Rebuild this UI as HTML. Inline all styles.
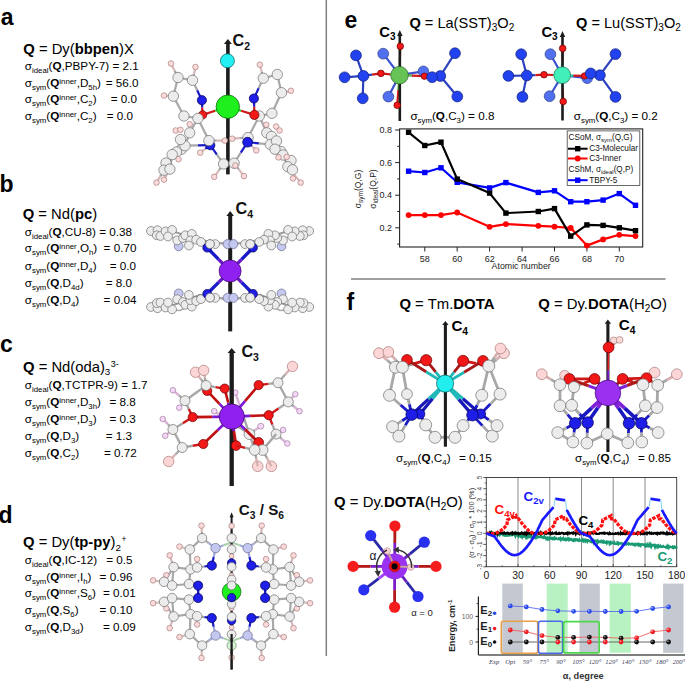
<!DOCTYPE html>
<html><head><meta charset="utf-8"><style>
html,body{margin:0;padding:0;background:#fff;width:685px;height:681px;overflow:hidden}
svg{display:block;font-family:"Liberation Sans",sans-serif}
</style></head><body>
<svg width="685" height="681" viewBox="0 0 685 681">
<line x1="326.3" y1="0" x2="326.3" y2="656" stroke="#808080" stroke-width="1.5"/>
<line x1="351" y1="279" x2="665.5" y2="279" stroke="#808080" stroke-width="1.7"/>
<text x="0.8" y="24.5" font-size="23" font-weight="bold">a</text>
<text x="-0.5" y="191.8" font-size="23" font-weight="bold">b</text>
<text x="0.1" y="352.3" font-size="23" font-weight="bold">c</text>
<text x="-1.5" y="523.1" font-size="23" font-weight="bold">d</text>
<text x="344.5" y="28.2" font-size="23" font-weight="bold">e</text>
<text x="346.5" y="309.8" font-size="23" font-weight="bold">f</text>
<text x="23.3" y="54.2" font-size="14.8"><tspan font-weight="bold">Q</tspan> = Dy(<tspan font-weight="bold">bbpen</tspan>)X</text>
<text x="24.8" y="70.3" font-size="11.7">σ<tspan font-size="7.8" baseline-shift="-2.5">ideal</tspan>(<tspan font-weight="bold">Q</tspan>,PBPY-7) = 2.1</text>
<text x="24.8" y="86.7" font-size="11.7">σ<tspan font-size="7.8" baseline-shift="-2.5">sym</tspan>(<tspan font-weight="bold">Q</tspan><tspan font-size="7.8" baseline-shift="3.5">inner</tspan>,D<tspan font-size="7.8" baseline-shift="-2.5">5h</tspan>)</text>
<text x="105.8" y="86.7" font-size="11.7">= 56.0</text>
<text x="24.8" y="103.2" font-size="11.7">σ<tspan font-size="7.8" baseline-shift="-2.5">sym</tspan>(<tspan font-weight="bold">Q</tspan><tspan font-size="7.8" baseline-shift="3.5">inner</tspan>,C<tspan font-size="7.8" baseline-shift="-2.5">2</tspan>)</text>
<text x="110.7" y="103.2" font-size="11.7">= 0.0</text>
<text x="24.8" y="119.7" font-size="11.7">σ<tspan font-size="7.8" baseline-shift="-2.5">sym</tspan>(<tspan font-weight="bold">Q</tspan><tspan font-size="7.8" baseline-shift="3.5">inner</tspan>,C<tspan font-size="7.8" baseline-shift="-2.5">2</tspan>)</text>
<text x="106.7" y="119.7" font-size="11.7">= 0.0</text>
<text x="22.7" y="219.2" font-size="14.8"><tspan font-weight="bold">Q</tspan> = Nd(<tspan font-weight="bold">pc</tspan>)</text>
<text x="24.8" y="235.7" font-size="11.7">σ<tspan font-size="7.8" baseline-shift="-2.5">ideal</tspan>(<tspan font-weight="bold">Q</tspan>,CU-8) = 0.38</text>
<text x="24.8" y="252.3" font-size="11.7">σ<tspan font-size="7.8" baseline-shift="-2.5">sym</tspan>(<tspan font-weight="bold">Q</tspan><tspan font-size="7.8" baseline-shift="3.5">inner</tspan>,O<tspan font-size="7.8" baseline-shift="-2.5">h</tspan>)</text>
<text x="103.6" y="252.3" font-size="11.7">= 0.70</text>
<text x="24.8" y="269.8" font-size="11.7">σ<tspan font-size="7.8" baseline-shift="-2.5">sym</tspan>(<tspan font-weight="bold">Q</tspan><tspan font-size="7.8" baseline-shift="3.5">inner</tspan>,D<tspan font-size="7.8" baseline-shift="-2.5">4</tspan>)</text>
<text x="109.8" y="269.8" font-size="11.7">= 0.0</text>
<text x="24.8" y="287.3" font-size="11.7">σ<tspan font-size="7.8" baseline-shift="-2.5">sym</tspan>(<tspan font-weight="bold">Q</tspan>,D<tspan font-size="7.8" baseline-shift="-2.5">4d</tspan>)</text>
<text x="105.8" y="287.3" font-size="11.7">= 8.0</text>
<text x="24.8" y="304.3" font-size="11.7">σ<tspan font-size="7.8" baseline-shift="-2.5">sym</tspan>(<tspan font-weight="bold">Q</tspan>,D<tspan font-size="7.8" baseline-shift="-2.5">4</tspan>)</text>
<text x="103.6" y="304.3" font-size="11.7">= 0.04</text>
<text x="23" y="372.2" font-size="14.8"><tspan font-weight="bold">Q</tspan> = Nd(oda)<tspan font-size="9.8" baseline-shift="-3.3">3</tspan><tspan font-size="2"> </tspan><tspan font-size="9" baseline-shift="4.7">3-</tspan></text>
<text x="24.8" y="388.6" font-size="11.7">σ<tspan font-size="7.8" baseline-shift="-2.5">ideal</tspan>(<tspan font-weight="bold">Q</tspan>,TCTPR-9) = 1.7</text>
<text x="24.8" y="405.5" font-size="11.7">σ<tspan font-size="7.8" baseline-shift="-2.5">sym</tspan>(<tspan font-weight="bold">Q</tspan><tspan font-size="7.8" baseline-shift="3.5">inner</tspan>,D<tspan font-size="7.8" baseline-shift="-2.5">3h</tspan>)</text>
<text x="109.5" y="405.5" font-size="11.7">= 8.8</text>
<text x="24.8" y="422.6" font-size="11.7">σ<tspan font-size="7.8" baseline-shift="-2.5">sym</tspan>(<tspan font-weight="bold">Q</tspan><tspan font-size="7.8" baseline-shift="3.5">inner</tspan>,D<tspan font-size="7.8" baseline-shift="-2.5">3</tspan>)</text>
<text x="109.5" y="422.6" font-size="11.7">= 0.3</text>
<text x="24.8" y="439.7" font-size="11.7">σ<tspan font-size="7.8" baseline-shift="-2.5">sym</tspan>(<tspan font-weight="bold">Q</tspan>,D<tspan font-size="7.8" baseline-shift="-2.5">3</tspan>)</text>
<text x="105.8" y="439.7" font-size="11.7">= 1.3</text>
<text x="24.8" y="456.5" font-size="11.7">σ<tspan font-size="7.8" baseline-shift="-2.5">sym</tspan>(<tspan font-weight="bold">Q</tspan>,C<tspan font-size="7.8" baseline-shift="-2.5">2</tspan>)</text>
<text x="104" y="456.5" font-size="11.7">= 0.72</text>
<text x="23" y="547" font-size="14.8"><tspan font-weight="bold">Q</tspan> = Dy(<tspan font-weight="bold">tp-py</tspan>)<tspan font-size="9.8" baseline-shift="-3.6">2</tspan><tspan font-size="2"> </tspan><tspan font-size="8.5" baseline-shift="5.2">+</tspan></text>
<text x="24.8" y="563.5" font-size="11.7">σ<tspan font-size="7.8" baseline-shift="-2.5">ideal</tspan>(<tspan font-weight="bold">Q</tspan>,IC-12)</text>
<text x="106.2" y="563.5" font-size="11.7">= 0.5</text>
<text x="24.8" y="580.6" font-size="11.7">σ<tspan font-size="7.8" baseline-shift="-2.5">sym</tspan>(<tspan font-weight="bold">Q</tspan><tspan font-size="7.8" baseline-shift="3.5">inner</tspan>,I<tspan font-size="7.8" baseline-shift="-2.5">h</tspan>)</text>
<text x="99.6" y="580.6" font-size="11.7">= 0.96</text>
<text x="24.8" y="597.4" font-size="11.7">σ<tspan font-size="7.8" baseline-shift="-2.5">sym</tspan>(<tspan font-weight="bold">Q</tspan><tspan font-size="7.8" baseline-shift="3.5">inner</tspan>,S<tspan font-size="7.8" baseline-shift="-2.5">6</tspan>)</text>
<text x="103" y="597.4" font-size="11.7">= 0.01</text>
<text x="24.8" y="614.3" font-size="11.7">σ<tspan font-size="7.8" baseline-shift="-2.5">sym</tspan>(<tspan font-weight="bold">Q</tspan>,S<tspan font-size="7.8" baseline-shift="-2.5">6</tspan>)</text>
<text x="99.6" y="614.3" font-size="11.7">= 0.10</text>
<text x="24.8" y="631" font-size="11.7">σ<tspan font-size="7.8" baseline-shift="-2.5">sym</tspan>(<tspan font-weight="bold">Q</tspan>,D<tspan font-size="7.8" baseline-shift="-2.5">3d</tspan>)</text>
<text x="103" y="631" font-size="11.7">= 0.09</text>
<text x="409.4" y="28.4" font-size="14.6"><tspan font-weight="bold">Q</tspan> = La(SST)<tspan font-size="10" baseline-shift="-3.2">3</tspan>O<tspan font-size="10" baseline-shift="-3.2">2</tspan></text>
<text x="576.0" y="28.4" font-size="14.6"><tspan font-weight="bold">Q</tspan> = Lu(SST)<tspan font-size="10" baseline-shift="-3.2">3</tspan>O<tspan font-size="10" baseline-shift="-3.2">2</tspan></text>
<text x="379.2" y="37.3" font-size="14.8" font-weight="bold">C<tspan font-size="10" baseline-shift="-3.2">3</tspan></text>
<text x="541.4" y="37.3" font-size="14.8" font-weight="bold">C<tspan font-size="10" baseline-shift="-3.2">3</tspan></text>
<text x="410.4" y="119.5" font-size="11.7">σ<tspan font-size="7.8" baseline-shift="-2.5">sym</tspan>(<tspan font-weight="bold">Q</tspan>,C<tspan font-size="7.8" baseline-shift="-2.5">3</tspan>) = 0.8</text>
<text x="573.8" y="120.2" font-size="11.7">σ<tspan font-size="7.8" baseline-shift="-2.5">sym</tspan>(<tspan font-weight="bold">Q</tspan>,C<tspan font-size="7.8" baseline-shift="-2.5">3</tspan>) = 0.2</text>
<rect x="399.6" y="128.9" width="243.1" height="118.1" fill="none" stroke="#222" stroke-width="1.1"/>
<line x1="395.2" y1="130.0" x2="399.6" y2="130.0" stroke="#222" stroke-width="1"/>
<text x="392" y="133.2" font-size="9" text-anchor="end" fill="#222">0.8</text>
<line x1="395.2" y1="162.6" x2="399.6" y2="162.6" stroke="#222" stroke-width="1"/>
<text x="392" y="165.8" font-size="9" text-anchor="end" fill="#222">0.6</text>
<line x1="395.2" y1="195.2" x2="399.6" y2="195.2" stroke="#222" stroke-width="1"/>
<text x="392" y="198.39999999999998" font-size="9" text-anchor="end" fill="#222">0.4</text>
<line x1="395.2" y1="227.8" x2="399.6" y2="227.8" stroke="#222" stroke-width="1"/>
<text x="392" y="231.0" font-size="9" text-anchor="end" fill="#222">0.2</text>
<line x1="397.2" y1="146.3" x2="399.6" y2="146.3" stroke="#222" stroke-width="1"/>
<line x1="397.2" y1="178.9" x2="399.6" y2="178.9" stroke="#222" stroke-width="1"/>
<line x1="397.2" y1="211.5" x2="399.6" y2="211.5" stroke="#222" stroke-width="1"/>
<line x1="397.2" y1="244.1" x2="399.6" y2="244.1" stroke="#222" stroke-width="1"/>
<line x1="424.8" y1="247" x2="424.8" y2="251.5" stroke="#222" stroke-width="1"/>
<text x="424.8" y="262.2" font-size="9" text-anchor="middle" fill="#222">58</text>
<line x1="457.2" y1="247" x2="457.2" y2="251.5" stroke="#222" stroke-width="1"/>
<text x="457.22" y="262.2" font-size="9" text-anchor="middle" fill="#222">60</text>
<line x1="489.6" y1="247" x2="489.6" y2="251.5" stroke="#222" stroke-width="1"/>
<text x="489.64" y="262.2" font-size="9" text-anchor="middle" fill="#222">62</text>
<line x1="522.1" y1="247" x2="522.1" y2="251.5" stroke="#222" stroke-width="1"/>
<text x="522.0600000000001" y="262.2" font-size="9" text-anchor="middle" fill="#222">64</text>
<line x1="554.5" y1="247" x2="554.5" y2="251.5" stroke="#222" stroke-width="1"/>
<text x="554.48" y="262.2" font-size="9" text-anchor="middle" fill="#222">66</text>
<line x1="586.9" y1="247" x2="586.9" y2="251.5" stroke="#222" stroke-width="1"/>
<text x="586.9000000000001" y="262.2" font-size="9" text-anchor="middle" fill="#222">68</text>
<line x1="619.3" y1="247" x2="619.3" y2="251.5" stroke="#222" stroke-width="1"/>
<text x="619.32" y="262.2" font-size="9" text-anchor="middle" fill="#222">70</text>
<text x="491.6" y="269.4" font-size="8.8" fill="#222">Atomic number</text>
<text transform="translate(361.3,189) rotate(-90)" text-anchor="middle" font-size="8.5" fill="#222">σ<tspan font-size="6.5" baseline-shift="-2">sym</tspan>(Q,G)</text>
<text transform="translate(375.5,189) rotate(-90)" text-anchor="middle" font-size="8.5" fill="#222">σ<tspan font-size="6.5" baseline-shift="-2">ideal</tspan>(Q,P)</text>
<polyline points="408.6,215.1 424.8,215.1 441.0,215.1 457.2,212.5 489.6,226.8 505.9,224.1 538.3,225.8 554.5,226.7 570.7,228.0 586.9,245.6 603.1,239.4 619.3,234.8 635.5,236.1" fill="none" stroke="#ff0000" stroke-width="2.2" stroke-linejoin="round"/>
<polyline points="408.6,171.2 424.8,172.5 441.0,167.8 457.2,182.3 489.6,187.9 505.9,182.6 538.3,192.4 554.5,190.8 570.7,201.7 586.9,201.7 603.1,200.1 619.3,193.6 635.5,205.3" fill="none" stroke="#0000ff" stroke-width="2.2" stroke-linejoin="round"/>
<polyline points="408.6,132.3 424.8,145.5 441.0,142.2 457.2,179.1 489.6,193.1 505.9,213.1 538.3,211.5 554.5,208.6 570.7,236.1 586.9,224.9 603.1,225.4 619.3,227.8 635.5,230.7" fill="none" stroke="#000000" stroke-width="2.2" stroke-linejoin="round"/>
<circle cx="408.6" cy="215.1" r="2.9" fill="#ff0000"/>
<circle cx="424.8" cy="215.1" r="2.9" fill="#ff0000"/>
<circle cx="441.0" cy="215.1" r="2.9" fill="#ff0000"/>
<circle cx="457.2" cy="212.5" r="2.9" fill="#ff0000"/>
<circle cx="489.6" cy="226.8" r="2.9" fill="#ff0000"/>
<circle cx="505.9" cy="224.1" r="2.9" fill="#ff0000"/>
<circle cx="538.3" cy="225.8" r="2.9" fill="#ff0000"/>
<circle cx="554.5" cy="226.7" r="2.9" fill="#ff0000"/>
<circle cx="570.7" cy="228.0" r="2.9" fill="#ff0000"/>
<circle cx="586.9" cy="245.6" r="2.9" fill="#ff0000"/>
<circle cx="603.1" cy="239.4" r="2.9" fill="#ff0000"/>
<circle cx="619.3" cy="234.8" r="2.9" fill="#ff0000"/>
<circle cx="635.5" cy="236.1" r="2.9" fill="#ff0000"/>
<rect x="405.9" y="168.5" width="5.4" height="5.4" fill="#0000ff"/>
<rect x="422.1" y="169.8" width="5.4" height="5.4" fill="#0000ff"/>
<rect x="438.3" y="165.1" width="5.4" height="5.4" fill="#0000ff"/>
<rect x="454.5" y="179.6" width="5.4" height="5.4" fill="#0000ff"/>
<rect x="486.9" y="185.2" width="5.4" height="5.4" fill="#0000ff"/>
<rect x="503.2" y="179.9" width="5.4" height="5.4" fill="#0000ff"/>
<rect x="535.6" y="189.7" width="5.4" height="5.4" fill="#0000ff"/>
<rect x="551.8" y="188.1" width="5.4" height="5.4" fill="#0000ff"/>
<rect x="568.0" y="199.0" width="5.4" height="5.4" fill="#0000ff"/>
<rect x="584.2" y="199.0" width="5.4" height="5.4" fill="#0000ff"/>
<rect x="600.4" y="197.4" width="5.4" height="5.4" fill="#0000ff"/>
<rect x="616.6" y="190.9" width="5.4" height="5.4" fill="#0000ff"/>
<rect x="632.8" y="202.6" width="5.4" height="5.4" fill="#0000ff"/>
<rect x="405.9" y="129.6" width="5.4" height="5.4" fill="#000"/>
<rect x="422.1" y="142.8" width="5.4" height="5.4" fill="#000"/>
<rect x="438.3" y="139.5" width="5.4" height="5.4" fill="#000"/>
<rect x="454.5" y="176.4" width="5.4" height="5.4" fill="#000"/>
<rect x="486.9" y="190.4" width="5.4" height="5.4" fill="#000"/>
<rect x="503.2" y="210.4" width="5.4" height="5.4" fill="#000"/>
<rect x="535.6" y="208.8" width="5.4" height="5.4" fill="#000"/>
<rect x="551.8" y="205.9" width="5.4" height="5.4" fill="#000"/>
<rect x="568.0" y="233.4" width="5.4" height="5.4" fill="#000"/>
<rect x="584.2" y="222.2" width="5.4" height="5.4" fill="#000"/>
<rect x="600.4" y="222.7" width="5.4" height="5.4" fill="#000"/>
<rect x="616.6" y="225.1" width="5.4" height="5.4" fill="#000"/>
<rect x="632.8" y="228.0" width="5.4" height="5.4" fill="#000"/>
<rect x="567.2" y="130.9" width="72.6" height="54.5" fill="#fff" stroke="#444" stroke-width="0.8"/>
<text x="568.6" y="139.5" font-size="8.2" fill="#111">CSoM, σ<tspan font-size="6" baseline-shift="-2">sym</tspan>(Q,G)</text>
<line x1="568" y1="148.7" x2="587.6" y2="148.7" stroke="#000" stroke-width="2"/><rect x="575" y="146" width="5.4" height="5.4" fill="#000"/>
<text x="589.3" y="150.9" font-size="8.2" fill="#111">C3-Molecular</text>
<line x1="568" y1="158.5" x2="587.6" y2="158.5" stroke="#f00" stroke-width="2"/><circle cx="577.7" cy="158.5" r="2.9" fill="#f00"/>
<text x="589.3" y="160.7" font-size="8.2" fill="#111">C3-Inner</text>
<text x="568.6" y="171.6" font-size="8.2" fill="#111">CShM, σ<tspan font-size="6" baseline-shift="-2">ideal</tspan>(Q,P)</text>
<line x1="568" y1="180.2" x2="587.6" y2="180.2" stroke="#00f" stroke-width="2"/><rect x="575" y="177.5" width="5.4" height="5.4" fill="#00f"/>
<text x="589.3" y="182.6" font-size="8.2" fill="#111">TBPY-5</text>
<text x="399.4" y="309.4" font-size="14.9"><tspan font-weight="bold">Q</tspan> = Tm.<tspan font-weight="bold">DOTA</tspan></text>
<text x="538.2" y="308.5" font-size="14.9"><tspan font-weight="bold">Q</tspan> = Dy.<tspan font-weight="bold">DOTA</tspan>(H<tspan font-size="10" baseline-shift="-3.2">2</tspan>O)</text>
<text x="451.4" y="330.6" font-size="15.2" font-weight="bold">C<tspan font-size="10.3" baseline-shift="-3.7">4</tspan></text>
<text x="618.8" y="329.9" font-size="15.2" font-weight="bold">C<tspan font-size="10.3" baseline-shift="-3.7">4</tspan></text>
<text x="396.1" y="462.3" font-size="11.7">σ<tspan font-size="7.8" baseline-shift="-2.5">sym</tspan>(<tspan font-weight="bold">Q</tspan>,C<tspan font-size="7.8" baseline-shift="-2.5">4</tspan>)</text>
<text x="459" y="462.3" font-size="11.7">= 0.15</text>
<text x="575" y="462.3" font-size="11.7">σ<tspan font-size="7.8" baseline-shift="-2.5">sym</tspan>(<tspan font-weight="bold">Q</tspan>,C<tspan font-size="7.8" baseline-shift="-2.5">4</tspan>)</text>
<text x="638.1" y="462.3" font-size="11.7">= 0.85</text>
<text x="334.1" y="506.5" font-size="14.9"><tspan font-weight="bold">Q</tspan> = Dy.<tspan font-weight="bold">DOTA</tspan>(H<tspan font-size="10" baseline-shift="-3.2">2</tspan>O)</text>
<text x="411.2" y="615.7" font-size="9.5" fill="#222">α = 0</text>
<line x1="518.0" y1="477.5" x2="518.0" y2="566.7" stroke="#8a8a8a" stroke-width="1"/>
<line x1="549.8" y1="477.5" x2="549.8" y2="566.7" stroke="#8a8a8a" stroke-width="1"/>
<line x1="581.5" y1="477.5" x2="581.5" y2="566.7" stroke="#8a8a8a" stroke-width="1"/>
<line x1="613.2" y1="477.5" x2="613.2" y2="566.7" stroke="#8a8a8a" stroke-width="1"/>
<line x1="645.0" y1="477.5" x2="645.0" y2="566.7" stroke="#8a8a8a" stroke-width="1"/>
<rect x="486.3" y="477.5" width="190.4" height="89.2" fill="none" stroke="#333" stroke-width="0.9"/>
<line x1="483.3" y1="566.8" x2="486.3" y2="566.8" stroke="#333" stroke-width="0.8"/>
<text transform="translate(482.4,566.8) rotate(-90)" text-anchor="middle" font-size="6.4" fill="#444">-3</text>
<line x1="483.3" y1="555.6" x2="486.3" y2="555.6" stroke="#333" stroke-width="0.8"/>
<text transform="translate(482.4,555.6) rotate(-90)" text-anchor="middle" font-size="6.4" fill="#444">-2</text>
<line x1="483.3" y1="544.4" x2="486.3" y2="544.4" stroke="#333" stroke-width="0.8"/>
<text transform="translate(482.4,544.4) rotate(-90)" text-anchor="middle" font-size="6.4" fill="#444">-1</text>
<line x1="483.3" y1="533.3" x2="486.3" y2="533.3" stroke="#333" stroke-width="0.8"/>
<text transform="translate(482.4,533.3) rotate(-90)" text-anchor="middle" font-size="6.4" fill="#444">0</text>
<line x1="483.3" y1="522.1" x2="486.3" y2="522.1" stroke="#333" stroke-width="0.8"/>
<text transform="translate(482.4,522.1) rotate(-90)" text-anchor="middle" font-size="6.4" fill="#444">1</text>
<line x1="483.3" y1="511.0" x2="486.3" y2="511.0" stroke="#333" stroke-width="0.8"/>
<text transform="translate(482.4,511.0) rotate(-90)" text-anchor="middle" font-size="6.4" fill="#444">2</text>
<line x1="483.3" y1="499.8" x2="486.3" y2="499.8" stroke="#333" stroke-width="0.8"/>
<text transform="translate(482.4,499.8) rotate(-90)" text-anchor="middle" font-size="6.4" fill="#444">3</text>
<line x1="483.3" y1="488.7" x2="486.3" y2="488.7" stroke="#333" stroke-width="0.8"/>
<text transform="translate(482.4,488.7) rotate(-90)" text-anchor="middle" font-size="6.4" fill="#444">4</text>
<line x1="483.3" y1="477.5" x2="486.3" y2="477.5" stroke="#333" stroke-width="0.8"/>
<text transform="translate(482.4,477.5) rotate(-90)" text-anchor="middle" font-size="6.4" fill="#444">5</text>
<line x1="484.5" y1="561.2" x2="486.3" y2="561.2" stroke="#333" stroke-width="0.6"/>
<line x1="484.5" y1="550.0" x2="486.3" y2="550.0" stroke="#333" stroke-width="0.6"/>
<line x1="484.5" y1="538.9" x2="486.3" y2="538.9" stroke="#333" stroke-width="0.6"/>
<line x1="484.5" y1="527.7" x2="486.3" y2="527.7" stroke="#333" stroke-width="0.6"/>
<line x1="484.5" y1="516.6" x2="486.3" y2="516.6" stroke="#333" stroke-width="0.6"/>
<line x1="484.5" y1="505.4" x2="486.3" y2="505.4" stroke="#333" stroke-width="0.6"/>
<line x1="484.5" y1="494.3" x2="486.3" y2="494.3" stroke="#333" stroke-width="0.6"/>
<line x1="484.5" y1="483.1" x2="486.3" y2="483.1" stroke="#333" stroke-width="0.6"/>
<text x="486.3" y="578.8" font-size="10.4" text-anchor="middle" fill="#222">0</text>
<line x1="486.3" y1="566.7" x2="486.3" y2="564.2" stroke="#333" stroke-width="0.8"/>
<text x="518.034" y="578.8" font-size="10.4" text-anchor="middle" fill="#222">30</text>
<line x1="518.0" y1="566.7" x2="518.0" y2="564.2" stroke="#333" stroke-width="0.8"/>
<text x="549.768" y="578.8" font-size="10.4" text-anchor="middle" fill="#222">60</text>
<line x1="549.8" y1="566.7" x2="549.8" y2="564.2" stroke="#333" stroke-width="0.8"/>
<text x="581.5020000000001" y="578.8" font-size="10.4" text-anchor="middle" fill="#222">90</text>
<line x1="581.5" y1="566.7" x2="581.5" y2="564.2" stroke="#333" stroke-width="0.8"/>
<text x="613.236" y="578.8" font-size="10.4" text-anchor="middle" fill="#222">120</text>
<line x1="613.2" y1="566.7" x2="613.2" y2="564.2" stroke="#333" stroke-width="0.8"/>
<text x="644.97" y="578.8" font-size="10.4" text-anchor="middle" fill="#222">150</text>
<line x1="645.0" y1="566.7" x2="645.0" y2="564.2" stroke="#333" stroke-width="0.8"/>
<text x="676.7040000000001" y="578.8" font-size="10.4" text-anchor="middle" fill="#222">180</text>
<line x1="676.7" y1="566.7" x2="676.7" y2="564.2" stroke="#333" stroke-width="0.8"/>
<line x1="502.2" y1="566.7" x2="502.2" y2="565.2" stroke="#333" stroke-width="0.7"/>
<line x1="533.9" y1="566.7" x2="533.9" y2="565.2" stroke="#333" stroke-width="0.7"/>
<line x1="565.6" y1="566.7" x2="565.6" y2="565.2" stroke="#333" stroke-width="0.7"/>
<line x1="597.4" y1="566.7" x2="597.4" y2="565.2" stroke="#333" stroke-width="0.7"/>
<line x1="629.1" y1="566.7" x2="629.1" y2="565.2" stroke="#333" stroke-width="0.7"/>
<line x1="660.8" y1="566.7" x2="660.8" y2="565.2" stroke="#333" stroke-width="0.7"/>
<text transform="translate(473.7,523) rotate(-90)" text-anchor="middle" font-size="7.4" fill="#333">(σ - σ<tspan font-size="5.4" baseline-shift="-1.8">0</tspan>) / σ<tspan font-size="5.4" baseline-shift="-1.8">0</tspan> * 100 (%)</text>
<polyline points="486.3,533.8 486.8,533.3 487.4,533.6 487.9,533.2 488.4,533.2 488.9,534.4 489.5,534.5 490.0,532.9 490.5,534.1 491.1,534.2 491.6,532.7 492.1,533.8 492.6,533.1 493.2,533.9 493.7,533.6 494.2,534.6 494.8,533.7 495.3,533.2 495.8,534.0 496.3,533.6 496.9,533.7 497.4,535.0 497.9,533.7 498.5,534.0 499.0,534.7 499.5,535.2 500.1,533.6 500.6,534.4 501.1,534.0 501.6,533.7 502.2,534.1 502.7,533.7 503.2,534.8 503.8,534.0 504.3,534.8 504.8,533.8 505.3,534.0 505.9,535.6 506.4,535.5 506.9,535.4 507.5,534.0 508.0,535.1 508.5,534.7 509.0,535.4 509.6,535.0 510.1,535.3 510.6,535.4 511.2,535.0 511.7,535.0 512.2,534.4 512.7,534.9 513.3,534.5 513.8,534.6 514.3,534.4 514.9,535.1 515.4,536.2 515.9,534.8 516.4,534.6 517.0,534.8 517.5,535.5 518.0,535.2 518.6,536.3 519.1,535.1 519.6,535.7 520.1,536.3 520.7,536.8 521.2,535.2 521.7,535.0 522.3,536.8 522.8,535.4 523.3,536.3 523.9,536.8 524.4,536.6 524.9,535.7 525.4,535.5 526.0,537.2 526.5,536.1 527.0,537.3 527.6,536.0 528.1,536.8 528.6,535.7 529.1,535.5 529.7,536.5 530.2,535.6 530.7,537.0 531.3,537.5 531.8,536.5 532.3,537.7 532.8,537.4 533.4,537.0 533.9,536.6 534.4,537.6 535.0,537.9 535.5,536.2 536.0,537.4 536.5,536.1 537.1,536.3 537.6,537.4 538.1,537.3 538.7,537.2 539.2,537.0 539.7,537.1 540.2,537.2 540.8,537.1 541.3,536.5 541.8,537.4 542.4,537.6 542.9,537.1 543.4,538.1 544.0,538.0 544.5,536.7 545.0,537.7 545.5,537.6 546.1,538.8 546.6,538.0 547.1,537.7 547.7,538.9 548.2,537.7 548.7,537.7 549.2,538.9 549.8,537.8 550.3,538.2 550.8,537.8 551.4,538.5 551.9,537.8 552.4,537.8 552.9,539.3 553.5,539.2 554.0,538.0 554.5,537.5 555.1,539.0 555.6,538.6 556.1,538.3 556.6,538.9 557.2,538.9 557.7,539.0 558.2,539.0 558.8,538.5 559.3,539.2 559.8,539.1 560.3,538.3 560.9,539.8 561.4,538.8 561.9,538.5 562.5,539.4 563.0,539.6 563.5,538.5 564.0,539.7 564.6,539.8 565.1,539.3 565.6,538.8 566.2,540.1 566.7,539.7 567.2,539.7 567.8,538.7 568.3,539.6 568.8,538.8 569.3,540.2 569.9,539.9 570.4,539.3 570.9,538.9 571.5,539.8 572.0,540.3 572.5,540.5 573.0,539.7 573.6,540.5 574.1,539.3 574.6,539.2 575.2,540.6 575.7,540.4 576.2,539.4 576.7,539.8 577.3,539.5 577.8,540.5 578.3,540.9 578.9,540.7 579.4,539.7 579.9,540.8 580.4,540.7 581.0,540.6 581.5,540.6 582.0,540.7 582.6,539.7 583.1,541.2 583.6,541.6 584.1,539.7 584.7,539.9 585.2,539.7 585.7,540.9 586.3,539.9 586.8,540.0 587.3,541.4 587.8,540.4 588.4,540.3 588.9,540.7 589.4,541.0 590.0,541.5 590.5,541.4 591.0,541.7 591.6,542.1 592.1,541.1 592.6,541.7 593.1,540.7 593.7,542.3 594.2,540.6 594.7,541.0 595.3,540.6 595.8,540.7 596.3,540.7 596.8,541.4 597.4,542.6 597.9,541.2 598.4,542.4 599.0,542.1 599.5,541.5 600.0,541.8 600.5,542.0 601.1,541.0 601.6,541.7 602.1,542.3 602.7,542.5 603.2,541.3 603.7,542.1 604.2,541.6 604.8,542.5 605.3,542.8 605.8,542.2 606.4,541.7 606.9,543.0 607.4,541.8 607.9,541.6 608.5,541.8 609.0,541.8 609.5,543.5 610.1,542.3 610.6,541.9 611.1,543.6 611.6,543.2 612.2,543.2 612.7,542.7 613.2,543.0 613.8,542.9 614.3,542.3 614.8,543.9 615.4,543.9 615.9,543.8 616.4,543.8 616.9,544.0 617.5,542.2 618.0,542.5 618.5,544.0 619.1,543.2 619.6,543.7 620.1,543.7 620.6,543.7 621.2,543.1 621.7,543.3 622.2,543.8 622.8,544.1 623.3,543.9 623.8,544.4 624.3,543.5 624.9,543.3 625.4,544.0 625.9,544.6 626.5,544.5 627.0,544.1 627.5,543.7 628.0,543.4 628.6,544.2 629.1,543.4 629.6,543.8 630.2,544.2 630.7,544.4 631.2,544.2 631.7,543.8 632.3,544.4 632.8,543.9 633.3,544.4 633.9,544.9 634.4,544.3 634.9,544.0 635.4,545.3 636.0,544.7 636.5,544.7 637.0,543.8 637.6,543.8 638.1,544.9 638.6,543.9 639.2,544.2 639.7,545.3 640.2,544.9 640.7,545.6 641.3,544.3 641.8,544.6 642.3,544.2 642.9,544.4 643.4,544.7 643.9,544.6 644.4,545.0 645.0,546.0 645.5,545.1 646.0,546.3 646.6,546.0 647.1,544.8 647.6,546.3 648.1,546.3 648.7,546.3 649.2,544.7 649.7,546.2 650.3,546.5 650.8,544.9 651.3,546.4 651.8,545.0 652.4,545.4 652.9,545.1 653.4,544.9 654.0,545.7 654.5,545.3 655.0,546.9 655.5,545.4 656.1,546.0 656.6,545.6 657.1,546.9 657.7,545.6 658.2,545.3 658.7,547.1 659.3,546.6 659.8,546.2 660.3,545.7 660.8,546.9 661.4,547.1 661.9,547.0 662.4,546.3 663.0,546.0 663.5,546.8 664.0,546.9 664.5,546.9 665.1,547.0 665.6,546.9 666.1,547.6 666.7,546.8 667.2,545.9 667.7,547.1 668.2,546.4 668.8,547.7 669.3,546.6 669.8,546.5 670.4,546.7 670.9,547.1 671.4,547.2 671.9,546.9 672.5,546.5 673.0,548.0 673.5,548.1 674.1,546.9 674.6,546.6 675.1,547.4 675.6,547.6 676.2,547.1 676.7,548.2" fill="none" stroke="#1a9a72" stroke-width="2.3"/>
<polyline points="486.3,533.7 486.8,533.8 487.4,533.2 487.9,533.6 488.4,533.7 488.9,533.0 489.5,532.6 490.0,533.6 490.5,533.0 491.1,533.4 491.6,532.7 492.1,533.2 492.6,533.7 493.2,533.7 493.7,534.0 494.2,533.3 494.8,533.5 495.3,533.8 495.8,533.5 496.3,533.6 496.9,532.9 497.4,533.9 497.9,532.5 498.5,533.3 499.0,533.1 499.5,533.3 500.1,532.8 500.6,532.8 501.1,533.2 501.6,533.3 502.2,533.0 502.7,532.7 503.2,533.5 503.8,532.9 504.3,532.6 504.8,533.4 505.3,533.7 505.9,533.7 506.4,533.0 506.9,533.0 507.5,532.6 508.0,532.7 508.5,533.7 509.0,533.8 509.6,533.7 510.1,533.8 510.6,533.0 511.2,532.7 511.7,532.7 512.2,533.7 512.7,532.7 513.3,533.6 513.8,533.4 514.3,532.9 514.9,533.9 515.4,533.9 515.9,532.8 516.4,533.6 517.0,533.5 517.5,533.2 518.0,533.0 518.6,534.1 519.1,533.6 519.6,533.4 520.1,533.3 520.7,533.8 521.2,533.2 521.7,532.6 522.3,533.5 522.8,533.2 523.3,533.9 523.9,533.7 524.4,533.0 524.9,533.9 525.4,532.7 526.0,532.7 526.5,533.9 527.0,532.6 527.6,533.5 528.1,532.9 528.6,532.9 529.1,533.6 529.7,533.0 530.2,533.1 530.7,532.8 531.3,533.7 531.8,532.9 532.3,532.6 532.8,533.0 533.4,533.2 533.9,533.9 534.4,533.3 535.0,533.5 535.5,533.0 536.0,533.0 536.5,533.2 537.1,533.8 537.6,533.1 538.1,533.1 538.7,533.8 539.2,532.7 539.7,533.1 540.2,533.9 540.8,532.6 541.3,533.9 541.8,533.6 542.4,533.0 542.9,533.1 543.4,533.2 544.0,533.1 544.5,533.4 545.0,533.6 545.5,533.8 546.1,534.0 546.6,533.0 547.1,532.9 547.7,533.2 548.2,532.9 548.7,533.5 549.2,533.7 549.8,533.5 550.3,532.7 550.8,534.0 551.4,533.3 551.9,533.7 552.4,532.9 552.9,533.5 553.5,533.6 554.0,533.5 554.5,533.2 555.1,532.9 555.6,533.5 556.1,532.8 556.6,533.9 557.2,533.7 557.7,533.9 558.2,533.9 558.8,532.9 559.3,532.9 559.8,533.8 560.3,533.8 560.9,533.4 561.4,532.9 561.9,532.8 562.5,532.9 563.0,533.2 563.5,533.9 564.0,533.5 564.6,533.8 565.1,533.3 565.6,533.2 566.2,533.8 566.7,533.7 567.2,532.9 567.8,534.0 568.3,532.8 568.8,532.7 569.3,532.6 569.9,533.5 570.4,533.2 570.9,533.2 571.5,533.1 572.0,532.6 572.5,533.0 573.0,533.6 573.6,532.7 574.1,533.3 574.6,533.1 575.2,532.9 575.7,534.1 576.2,532.9 576.7,533.0 577.3,533.3 577.8,533.3 578.3,533.4 578.9,533.8 579.4,533.3 579.9,534.0 580.4,533.3 581.0,533.1 581.5,533.4 582.0,533.2 582.6,532.6 583.1,532.7 583.6,533.9 584.1,532.8 584.7,533.1 585.2,534.0 585.7,533.5 586.3,533.7 586.8,534.0 587.3,533.2 587.8,532.6 588.4,533.6 588.9,532.7 589.4,533.0 590.0,533.9 590.5,532.7 591.0,533.1 591.6,532.6 592.1,533.0 592.6,532.9 593.1,533.5 593.7,532.8 594.2,532.6 594.7,532.7 595.3,533.4 595.8,532.9 596.3,533.3 596.8,533.9 597.4,534.0 597.9,534.0 598.4,533.8 599.0,533.8 599.5,533.3 600.0,533.0 600.5,533.2 601.1,533.4 601.6,533.1 602.1,533.6 602.7,533.4 603.2,532.9 603.7,533.5 604.2,533.8 604.8,532.7 605.3,533.0 605.8,533.5 606.4,533.5 606.9,533.3 607.4,533.1 607.9,533.7 608.5,534.1 609.0,533.8 609.5,532.9 610.1,533.9 610.6,533.4 611.1,533.8 611.6,533.8 612.2,533.8 612.7,533.5 613.2,533.8 613.8,534.0 614.3,533.9 614.8,533.8 615.4,533.3 615.9,534.0 616.4,534.0 616.9,533.4 617.5,533.4 618.0,533.0 618.5,534.0 619.1,533.5 619.6,533.5 620.1,534.0 620.6,532.6 621.2,533.7 621.7,533.9 622.2,533.3 622.8,533.8 623.3,533.1 623.8,533.5 624.3,533.9 624.9,534.0 625.4,532.9 625.9,533.7 626.5,532.9 627.0,533.4 627.5,532.6 628.0,533.6 628.6,533.7 629.1,533.7 629.6,532.8 630.2,533.1 630.7,533.5 631.2,533.9 631.7,533.0 632.3,532.6 632.8,533.2 633.3,534.1 633.9,534.0 634.4,533.9 634.9,533.8 635.4,534.0 636.0,534.0 636.5,533.1 637.0,532.7 637.6,533.8 638.1,532.6 638.6,533.3 639.2,532.8 639.7,532.6 640.2,532.6 640.7,534.0 641.3,533.6 641.8,533.1 642.3,532.6 642.9,533.9 643.4,533.6 643.9,532.8 644.4,533.9 645.0,533.5 645.5,533.6 646.0,533.0 646.6,532.6 647.1,533.8 647.6,532.9 648.1,532.9 648.7,532.8 649.2,533.2 649.7,532.6 650.3,533.5 650.8,533.4 651.3,533.7 651.8,532.9 652.4,533.3 652.9,533.7 653.4,533.8 654.0,533.0 654.5,533.1 655.0,533.0 655.5,533.5 656.1,533.3 656.6,533.8 657.1,533.0 657.7,534.0 658.2,533.4 658.7,532.9 659.3,533.0 659.8,533.9 660.3,533.7 660.8,532.8 661.4,533.1 661.9,532.7 662.4,532.7 663.0,533.4 663.5,532.7 664.0,532.9 664.5,533.6 665.1,533.5 665.6,534.0 666.1,533.5 666.7,532.6 667.2,533.9 667.7,533.2 668.2,533.9 668.8,534.0 669.3,533.1 669.8,533.7 670.4,534.0 670.9,533.8 671.4,533.1 671.9,533.2 672.5,534.1 673.0,533.7 673.5,532.6 674.1,533.7 674.6,533.2 675.1,533.4 675.6,532.9 676.2,533.1 676.7,532.8" fill="none" stroke="#000" stroke-width="2.2"/>
<polyline points="486.3,533.3 486.8,533.3 487.4,533.3 487.9,533.3 488.4,533.3 488.9,533.3 489.5,533.3 490.0,533.3 490.5,533.3 491.1,533.3 491.6,533.3 492.1,533.3 492.6,533.3 493.2,533.3 493.7,533.3 494.2,533.3 494.8,533.3 495.3,533.2 495.8,533.1 496.3,533.0 496.9,532.8 497.4,532.6 497.9,532.3 498.5,532.1 499.0,531.8 499.5,531.4 500.1,531.1 500.6,530.7 501.1,530.4 501.6,530.0 502.2,529.5 502.7,529.1 503.2,528.6 503.8,528.2 504.3,527.7 504.8,527.2 505.3,526.6 505.9,526.1 506.4,525.5 506.9,525.0 507.5,519.9 508.0,519.7 508.5,519.4 509.0,519.1 509.6,518.9 510.1,518.6 510.6,518.3 511.2,518.1 511.7,517.8 512.2,517.6 512.7,517.3 513.3,517.0 513.8,516.8 514.3,516.5 514.9,516.2 515.4,516.0 515.9,515.7 516.4,518.8 517.0,518.8 517.5,518.8 518.0,518.8 518.6,518.8 519.1,519.5 519.6,520.3 520.1,521.0 520.7,521.7 521.2,522.4 521.7,523.1 522.3,523.7 522.8,524.4 523.3,525.0 523.9,525.6 524.4,526.2 524.9,526.8 525.4,527.4 526.0,527.9 526.5,528.4 527.0,528.9 527.6,529.4 528.1,529.9 528.6,530.4 529.1,530.8 529.7,531.2 530.2,531.6 530.7,531.9 531.3,532.3 531.8,532.6 532.3,532.8 532.8,533.0 533.4,533.2 533.9,533.3 534.4,533.3 535.0,533.3 535.5,533.3 536.0,533.3 536.5,533.3 537.1,533.3 537.6,533.3 538.1,533.3 538.7,533.3 539.2,533.3 539.7,533.3 540.2,533.3 540.8,533.3 541.3,533.3 541.8,533.3 542.4,533.3 542.9,533.2 543.4,533.1 544.0,533.0 544.5,532.8 545.0,532.6 545.5,532.3 546.1,532.1 546.6,531.8 547.1,531.4 547.7,531.1 548.2,530.7 548.7,530.4 549.2,530.0 549.8,529.5 550.3,529.1 550.8,528.6 551.4,528.2 551.9,527.7 552.4,527.2 552.9,526.6 553.5,526.1 554.0,525.5 554.5,525.0 555.1,519.9 555.6,519.7 556.1,519.4 556.6,519.1 557.2,518.9 557.7,518.6 558.2,518.3 558.8,518.1 559.3,517.8 559.8,517.6 560.3,517.3 560.9,517.0 561.4,516.8 561.9,516.5 562.5,516.2 563.0,516.0 563.5,515.7 564.0,518.8 564.6,518.8 565.1,518.8 565.6,518.8 566.2,518.8 566.7,519.5 567.2,520.3 567.8,521.0 568.3,521.7 568.8,522.4 569.3,523.1 569.9,523.7 570.4,524.4 570.9,525.0 571.5,525.6 572.0,526.2 572.5,526.8 573.0,527.4 573.6,527.9 574.1,528.4 574.6,528.9 575.2,529.4 575.7,529.9 576.2,530.4 576.7,530.8 577.3,531.2 577.8,531.6 578.3,531.9 578.9,532.3 579.4,532.6 579.9,532.8 580.4,533.0 581.0,533.2 581.5,533.3 582.0,533.3 582.6,533.3 583.1,533.3 583.6,533.3 584.1,533.3 584.7,533.3 585.2,533.3 585.7,533.3 586.3,533.3 586.8,533.3 587.3,533.3 587.8,533.3 588.4,533.3 588.9,533.3 589.4,533.3 590.0,533.3 590.5,533.2 591.0,533.1 591.6,533.0 592.1,532.8 592.6,532.6 593.1,532.3 593.7,532.1 594.2,531.8 594.7,531.4 595.3,531.1 595.8,530.7 596.3,530.4 596.8,530.0 597.4,529.5 597.9,529.1 598.4,528.6 599.0,528.2 599.5,527.7 600.0,527.2 600.5,526.6 601.1,526.1 601.6,525.5 602.1,525.0 602.7,519.9 603.2,519.7 603.7,519.4 604.2,519.1 604.8,518.9 605.3,518.6 605.8,518.3 606.4,518.1 606.9,517.8 607.4,517.6 607.9,517.3 608.5,517.0 609.0,516.8 609.5,516.5 610.1,516.2 610.6,516.0 611.1,515.7 611.6,518.8 612.2,518.8 612.7,518.8 613.2,518.8 613.8,518.8 614.3,519.5 614.8,520.3 615.4,521.0 615.9,521.7 616.4,522.4 616.9,523.1 617.5,523.7 618.0,524.4 618.5,525.0 619.1,525.6 619.6,526.2 620.1,526.8 620.6,527.4 621.2,527.9 621.7,528.4 622.2,528.9 622.8,529.4 623.3,529.9 623.8,530.4 624.3,530.8 624.9,531.2 625.4,531.6 625.9,531.9 626.5,532.3 627.0,532.6 627.5,532.8 628.0,533.0 628.6,533.2 629.1,533.3 629.6,533.3 630.2,533.3 630.7,533.3 631.2,533.3 631.7,533.3 632.3,533.3 632.8,533.3 633.3,533.3 633.9,533.3 634.4,533.3 634.9,533.3 635.4,533.3 636.0,533.3 636.5,533.3 637.0,533.3 637.6,533.3 638.1,533.2 638.6,533.1 639.2,533.0 639.7,532.8 640.2,532.6 640.7,532.3 641.3,532.1 641.8,531.8 642.3,531.4 642.9,531.1 643.4,530.7 643.9,530.4 644.4,530.0 645.0,529.5 645.5,529.1 646.0,528.6 646.6,528.2 647.1,527.7 647.6,527.2 648.1,526.6 648.7,526.1 649.2,525.5 649.7,525.0 650.3,519.9 650.8,519.7 651.3,519.4 651.8,519.1 652.4,518.9 652.9,518.6 653.4,518.3 654.0,518.1 654.5,517.8 655.0,517.6 655.5,517.3 656.1,517.0 656.6,516.8 657.1,516.5 657.7,516.2 658.2,516.0 658.7,515.7 659.3,518.8 659.8,518.8 660.3,518.8 660.8,518.8 661.4,518.8 661.9,519.5 662.4,520.3 663.0,521.0 663.5,521.7 664.0,522.4 664.5,523.1 665.1,523.7 665.6,524.4 666.1,525.0 666.7,525.6 667.2,526.2 667.7,526.8 668.2,527.4 668.8,527.9 669.3,528.4 669.8,528.9 670.4,529.4 670.9,529.9 671.4,530.4 671.9,530.8 672.5,531.2 673.0,531.6 673.5,531.9 674.1,532.3 674.6,532.6 675.1,532.8 675.6,533.0 676.2,533.2 676.7,533.3" fill="none" stroke="#ff1010" stroke-width="3.2" stroke-dasharray="3.5 1.2"/>
<polyline points="486.3,533.3 486.8,533.5 487.4,533.7 487.9,533.9 488.4,534.1 488.9,534.3 489.5,534.6 490.0,534.8 490.5,535.0 491.1,535.2 491.6,535.4 492.1,535.6 492.6,535.8 493.2,536.0 493.7,536.2 494.2,536.4 494.8,536.6 495.3,537.4 495.8,538.2 496.3,538.9 496.9,539.7 497.4,540.4 497.9,541.2 498.5,541.9 499.0,542.7 499.5,543.4 500.1,544.1 500.6,544.8 501.1,545.5 501.6,546.1 502.2,546.8 502.7,547.4 503.2,548.0 503.8,548.6 504.3,549.2 504.8,549.7 505.3,550.3 505.9,550.8 506.4,551.2 506.9,551.7 507.5,552.1 508.0,552.5 508.5,552.9 509.0,553.3 509.6,553.6 510.1,553.9 510.6,554.1 511.2,554.4 511.7,554.6 512.2,554.7 512.7,554.9 513.3,555.0 513.8,555.0 514.3,555.1 514.9,555.1 515.4,555.0 515.9,555.0 516.4,554.9 517.0,554.8 517.5,554.6 518.0,554.4 518.6,554.2 519.1,553.9 519.6,553.7 520.1,553.4 520.7,553.0 521.2,552.6 521.7,552.2 522.3,551.8 522.8,551.3 523.3,550.8 523.9,550.3 524.4,549.8 524.9,549.2 525.4,548.6 526.0,548.0 526.5,547.4 527.0,546.7 527.6,546.0 528.1,545.3 528.6,544.6 529.1,543.9 529.7,543.1 530.2,542.4 530.7,541.6 531.3,540.8 531.8,540.0 532.3,539.2 532.8,538.4 533.4,537.5 533.9,536.7 534.4,535.8 535.0,535.0 535.5,534.2 536.0,533.3 536.5,532.2 537.1,531.1 537.6,530.0 538.1,528.8 538.7,527.7 539.2,526.6 539.7,525.5 540.2,524.4 540.8,523.3 541.3,522.1 541.8,521.0 542.4,519.9 542.9,519.3 543.4,518.7 544.0,518.1 544.5,517.5 545.0,516.9 545.5,516.3 546.1,515.7 546.6,515.1 547.1,514.4 547.7,513.8 548.2,513.2 548.7,512.6 549.2,512.0 549.8,511.4 550.3,510.8 550.8,510.2 551.4,509.6 551.9,509.0 552.4,508.4 552.9,507.8 553.5,507.1" fill="none" stroke="#1a1aff" stroke-width="2.7"/>
<polyline points="555.1,498.7 555.6,498.8 556.1,498.9 556.6,499.0 557.2,499.1 557.7,499.2 558.2,499.2 558.8,499.3 559.3,499.4 559.8,499.5 560.3,499.6 560.9,499.7 561.4,499.7 561.9,499.8 562.5,499.9 563.0,500.0 563.5,500.1 564.0,500.2 564.6,500.2 565.1,500.3" fill="none" stroke="#1a1aff" stroke-width="2.7"/>
<polyline points="566.7,509.9 567.2,510.9 567.8,511.9 568.3,512.9 568.8,513.8 569.3,514.8 569.9,515.8 570.4,516.7 570.9,517.7 571.5,518.6 572.0,519.5 572.5,520.4 573.0,521.3 573.6,522.2 574.1,523.1 574.6,524.0 575.2,524.8 575.7,525.7 576.2,526.5 576.7,527.3 577.3,528.1 577.8,528.9 578.3,529.6 578.9,530.3 579.4,531.0 579.9,531.7 580.4,532.3 581.0,532.9 581.5,533.3 582.0,533.5 582.6,533.7 583.1,533.9 583.6,534.1 584.1,534.3 584.7,534.6 585.2,534.8 585.7,535.0 586.3,535.2 586.8,535.4 587.3,535.6 587.8,535.8 588.4,536.0 588.9,536.2 589.4,536.4 590.0,536.6 590.5,537.4 591.0,538.2 591.6,538.9 592.1,539.7 592.6,540.4 593.1,541.2 593.7,541.9 594.2,542.7 594.7,543.4 595.3,544.1 595.8,544.8 596.3,545.5 596.8,546.1 597.4,546.8 597.9,547.4 598.4,548.0 599.0,548.6 599.5,549.2 600.0,549.7 600.5,550.3 601.1,550.8 601.6,551.2 602.1,551.7 602.7,552.1 603.2,552.5 603.7,552.9 604.2,553.3 604.8,553.6 605.3,553.9 605.8,554.1 606.4,554.4 606.9,554.6 607.4,554.7 607.9,554.9 608.5,555.0 609.0,555.0 609.5,555.1 610.1,555.1 610.6,555.0 611.1,555.0 611.6,554.9 612.2,554.8 612.7,554.6 613.2,554.4 613.8,554.2 614.3,553.9 614.8,553.7 615.4,553.4 615.9,553.0 616.4,552.6 616.9,552.2 617.5,551.8 618.0,551.3 618.5,550.8 619.1,550.3 619.6,549.8 620.1,549.2 620.6,548.6 621.2,548.0 621.7,547.4 622.2,546.7 622.8,546.0 623.3,545.3 623.8,544.6 624.3,543.9 624.9,543.1 625.4,542.4 625.9,541.6 626.5,540.8 627.0,540.0 627.5,539.2 628.0,538.4 628.6,537.5 629.1,536.7 629.6,535.8 630.2,535.0 630.7,534.2 631.2,533.3 631.7,532.2 632.3,531.1 632.8,530.0 633.3,528.8 633.9,527.7 634.4,526.6 634.9,525.5 635.4,524.4 636.0,523.3 636.5,522.1 637.0,521.0 637.6,519.9 638.1,519.3 638.6,518.7 639.2,518.1 639.7,517.5 640.2,516.9 640.7,516.3 641.3,515.7 641.8,515.1 642.3,514.4 642.9,513.8 643.4,513.2 643.9,512.6 644.4,512.0 645.0,511.4 645.5,510.8 646.0,510.2 646.6,509.6 647.1,509.0 647.6,508.4 648.1,507.8 648.7,507.1" fill="none" stroke="#1a1aff" stroke-width="2.7"/>
<polyline points="650.3,498.7 650.8,498.8 651.3,498.9 651.8,499.0 652.4,499.1 652.9,499.2 653.4,499.2 654.0,499.3 654.5,499.4 655.0,499.5 655.5,499.6 656.1,499.7 656.6,499.7 657.1,499.8 657.7,499.9 658.2,500.0 658.7,500.1 659.3,500.2 659.8,500.2 660.3,500.3" fill="none" stroke="#1a1aff" stroke-width="2.7"/>
<polyline points="661.9,509.9 662.4,510.9 663.0,511.9 663.5,512.9 664.0,513.8 664.5,514.8 665.1,515.8 665.6,516.7 666.1,517.7 666.7,518.6 667.2,519.5 667.7,520.4 668.2,521.3 668.8,522.2 669.3,523.1 669.8,524.0 670.4,524.8 670.9,525.7 671.4,526.5 671.9,527.3 672.5,528.1 673.0,528.9 673.5,529.6 674.1,530.3 674.6,531.0 675.1,531.7 675.6,532.3 676.2,532.9 676.7,533.3" fill="none" stroke="#1a1aff" stroke-width="2.7"/>
<line x1="554.0" y1="506.5" x2="555.1" y2="498.7" stroke="#7fd0f0" stroke-width="1"/>
<line x1="565.6" y1="500.4" x2="566.7" y2="509.9" stroke="#7fd0f0" stroke-width="1"/>
<line x1="649.2" y1="506.5" x2="650.3" y2="498.7" stroke="#7fd0f0" stroke-width="1"/>
<line x1="660.8" y1="500.4" x2="661.9" y2="509.9" stroke="#7fd0f0" stroke-width="1"/>
<text x="494.6" y="514.0" font-size="13.4" font-weight="bold" fill="#ff1010">C<tspan font-size="9.6" baseline-shift="-3.0">4v</tspan></text>
<text x="523.6" y="501.0" font-size="13.4" font-weight="bold" fill="#1a1aff">C<tspan font-size="9.6" baseline-shift="-3.0">2v</tspan></text>
<text x="578.4" y="525.4" font-size="13.4" font-weight="bold" fill="#000">C<tspan font-size="9.6" baseline-shift="-3.0">4</tspan></text>
<text x="657.4" y="561.2" font-size="13.4" font-weight="bold" fill="#1a9a72">C<tspan font-size="9.6" baseline-shift="-3.0">2</tspan></text>
<rect x="502.3" y="583.6" width="20.5" height="69.2" fill="#c4c8d0"/>
<rect x="579.5" y="583.6" width="20.3" height="69.2" fill="#c4c8d0"/>
<rect x="663.1" y="583.6" width="20.4" height="69.2" fill="#c4c8d0"/>
<rect x="546.7" y="583.6" width="21.0" height="69.2" fill="#b8f2c2"/>
<rect x="609.6" y="583.6" width="21.2" height="69.2" fill="#b8f2c2"/>
<line x1="478.4" y1="596.4" x2="478.4" y2="655" stroke="#222" stroke-width="1.2"/>
<line x1="478.4" y1="655" x2="685" y2="655" stroke="#555" stroke-width="1.6"/>
<line x1="475.5" y1="642.0" x2="478.4" y2="642.0" stroke="#222" stroke-width="1"/>
<line x1="475.5" y1="616.4" x2="478.4" y2="616.4" stroke="#222" stroke-width="1"/>
<line x1="476.5" y1="629.2" x2="478.4" y2="629.2" stroke="#222" stroke-width="0.8"/>
<line x1="476.5" y1="603.6" x2="478.4" y2="603.6" stroke="#222" stroke-width="0.8"/>
<text x="473.1" y="618.9" font-size="6.8" text-anchor="end" fill="#666">100</text>
<text x="473.1" y="644.5" font-size="6.8" text-anchor="end" fill="#666">0</text>
<polyline points="510.3,642.0 526.3,642.0 542.0,642.0 557.8,642.0 573.6,642.0 589.4,642.0 605.3,642.0 621.1,642.0 636.6,642.0 652.7,642.0 668.6,642.0" fill="none" stroke="#666" stroke-width="1.0"/>
<polyline points="510.3,630.0 526.3,631.8 542.0,635.6 557.8,637.4 573.6,637.4 589.4,637.1 605.3,637.4 621.1,638.2 636.6,637.9 652.7,631.8 668.6,630.0" fill="none" stroke="#f06060" stroke-width="0.9"/>
<polyline points="510.3,605.9 526.3,606.9 542.0,609.5 557.8,610.8 573.6,611.3 589.4,611.3 605.3,611.5 621.1,611.5 636.6,611.3 652.7,608.5 668.6,606.9" fill="none" stroke="#5a6aee" stroke-width="0.9"/>
<circle cx="510.3" cy="642.0" r="2.4" fill="#111"/><circle cx="509.6" cy="641.2" r="0.9" fill="#888"/>
<circle cx="526.3" cy="642.0" r="2.4" fill="#111"/><circle cx="525.6" cy="641.2" r="0.9" fill="#888"/>
<circle cx="542.0" cy="642.0" r="2.4" fill="#111"/><circle cx="541.3" cy="641.2" r="0.9" fill="#888"/>
<circle cx="557.8" cy="637.4" r="2.4" fill="#111"/><circle cx="557.1" cy="636.6" r="0.9" fill="#888"/>
<circle cx="573.6" cy="637.4" r="2.4" fill="#111"/><circle cx="572.9" cy="636.6" r="0.9" fill="#888"/>
<circle cx="589.4" cy="637.1" r="2.4" fill="#111"/><circle cx="588.7" cy="636.3" r="0.9" fill="#888"/>
<circle cx="605.3" cy="637.4" r="2.4" fill="#111"/><circle cx="604.6" cy="636.6" r="0.9" fill="#888"/>
<circle cx="621.1" cy="638.2" r="2.4" fill="#111"/><circle cx="620.4" cy="637.4" r="0.9" fill="#888"/>
<circle cx="636.6" cy="642.0" r="2.4" fill="#111"/><circle cx="635.9" cy="641.2" r="0.9" fill="#888"/>
<circle cx="652.7" cy="642.0" r="2.4" fill="#111"/><circle cx="652.0" cy="641.2" r="0.9" fill="#888"/>
<circle cx="668.6" cy="642.0" r="2.4" fill="#111"/><circle cx="667.9" cy="641.2" r="0.9" fill="#888"/>
<circle cx="510.3" cy="630.0" r="2.4" fill="#ee1c24"/><circle cx="509.6" cy="629.2" r="0.9" fill="#ff9090"/>
<circle cx="526.3" cy="631.8" r="2.4" fill="#ee1c24"/><circle cx="525.6" cy="631.0" r="0.9" fill="#ff9090"/>
<circle cx="542.0" cy="635.6" r="2.4" fill="#ee1c24"/><circle cx="541.3" cy="634.8" r="0.9" fill="#ff9090"/>
<circle cx="557.8" cy="642.0" r="2.4" fill="#ee1c24"/><circle cx="557.1" cy="641.2" r="0.9" fill="#ff9090"/>
<circle cx="573.6" cy="642.0" r="2.4" fill="#ee1c24"/><circle cx="572.9" cy="641.2" r="0.9" fill="#ff9090"/>
<circle cx="589.4" cy="642.0" r="2.4" fill="#ee1c24"/><circle cx="588.7" cy="641.2" r="0.9" fill="#ff9090"/>
<circle cx="605.3" cy="642.0" r="2.4" fill="#ee1c24"/><circle cx="604.6" cy="641.2" r="0.9" fill="#ff9090"/>
<circle cx="621.1" cy="642.0" r="2.4" fill="#ee1c24"/><circle cx="620.4" cy="641.2" r="0.9" fill="#ff9090"/>
<circle cx="636.6" cy="637.9" r="2.4" fill="#ee1c24"/><circle cx="635.9" cy="637.1" r="0.9" fill="#ff9090"/>
<circle cx="652.7" cy="631.8" r="2.4" fill="#ee1c24"/><circle cx="652.0" cy="631.0" r="0.9" fill="#ff9090"/>
<circle cx="668.6" cy="630.0" r="2.4" fill="#ee1c24"/><circle cx="667.9" cy="629.2" r="0.9" fill="#ff9090"/>
<circle cx="510.3" cy="605.9" r="2.4" fill="#2a4aee"/><circle cx="509.6" cy="605.1" r="0.9" fill="#a0b0ff"/>
<circle cx="526.3" cy="606.9" r="2.4" fill="#2a4aee"/><circle cx="525.6" cy="606.1" r="0.9" fill="#a0b0ff"/>
<circle cx="542.0" cy="609.5" r="2.4" fill="#2a4aee"/><circle cx="541.3" cy="608.7" r="0.9" fill="#a0b0ff"/>
<circle cx="557.8" cy="610.8" r="2.4" fill="#2a4aee"/><circle cx="557.1" cy="610.0" r="0.9" fill="#a0b0ff"/>
<circle cx="573.6" cy="611.3" r="2.4" fill="#2a4aee"/><circle cx="572.9" cy="610.5" r="0.9" fill="#a0b0ff"/>
<circle cx="589.4" cy="611.3" r="2.4" fill="#2a4aee"/><circle cx="588.7" cy="610.5" r="0.9" fill="#a0b0ff"/>
<circle cx="605.3" cy="611.5" r="2.4" fill="#2a4aee"/><circle cx="604.6" cy="610.7" r="0.9" fill="#a0b0ff"/>
<circle cx="621.1" cy="611.5" r="2.4" fill="#2a4aee"/><circle cx="620.4" cy="610.7" r="0.9" fill="#a0b0ff"/>
<circle cx="636.6" cy="611.3" r="2.4" fill="#2a4aee"/><circle cx="635.9" cy="610.5" r="0.9" fill="#a0b0ff"/>
<circle cx="652.7" cy="608.5" r="2.4" fill="#2a4aee"/><circle cx="652.0" cy="607.7" r="0.9" fill="#a0b0ff"/>
<circle cx="668.6" cy="606.9" r="2.4" fill="#2a4aee"/><circle cx="667.9" cy="606.1" r="0.9" fill="#a0b0ff"/>
<rect x="501.3" y="621.3" width="36.4" height="31.9" rx="2" fill="none" stroke="#e8a048" stroke-width="1.6"/>
<rect x="538.5" y="621.3" width="24.1" height="31.9" rx="2" fill="none" stroke="#4a68e8" stroke-width="1.6"/>
<rect x="563.6" y="621.6" width="35.6" height="31.3" rx="2" fill="none" stroke="#48d848" stroke-width="1.6"/>
<text x="480.3" y="613.6" font-size="11" font-weight="bold" fill="#222">E<tspan font-size="8" baseline-shift="-2">2</tspan></text>
<text x="480.3" y="629.5" font-size="11" font-weight="bold" fill="#222">E<tspan font-size="8" baseline-shift="-2">1</tspan></text>
<text x="480.3" y="644.6" font-size="11" font-weight="bold" fill="#222">E<tspan font-size="8" baseline-shift="-2">0</tspan></text>
<circle cx="494.6" cy="613.3" r="1.8" fill="#2a4aee"/><circle cx="494.6" cy="628.6" r="1.8" fill="#ee1c24"/><circle cx="494.6" cy="642" r="1.8" fill="#111"/>
<text x="494.2" y="663.8" font-size="6.6" text-anchor="middle" font-family="Liberation Serif" font-style="italic" fill="#3a3a5a">Exp</text>
<text x="510.3" y="663.8" font-size="6.6" text-anchor="middle" font-family="Liberation Serif" font-style="italic" fill="#3a3a5a">Opt</text>
<text x="527.4" y="663.8" font-size="6.6" text-anchor="middle" font-family="Liberation Serif" font-style="italic" fill="#3a3a5a">59°</text>
<text x="544.2" y="663.8" font-size="6.6" text-anchor="middle" font-family="Liberation Serif" font-style="italic" fill="#3a3a5a">75°</text>
<text x="560.9" y="663.8" font-size="6.6" text-anchor="middle" font-family="Liberation Serif" font-style="italic" fill="#3a3a5a">90°</text>
<text x="578.4" y="663.8" font-size="6.6" text-anchor="middle" font-family="Liberation Serif" font-style="italic" fill="#3a3a5a">105°</text>
<text x="595" y="663.8" font-size="6.6" text-anchor="middle" font-family="Liberation Serif" font-style="italic" fill="#3a3a5a">120°</text>
<text x="611.6" y="663.8" font-size="6.6" text-anchor="middle" font-family="Liberation Serif" font-style="italic" fill="#3a3a5a">129°</text>
<text x="628" y="663.8" font-size="6.6" text-anchor="middle" font-family="Liberation Serif" font-style="italic" fill="#3a3a5a">140°</text>
<text x="645" y="663.8" font-size="6.6" text-anchor="middle" font-family="Liberation Serif" font-style="italic" fill="#3a3a5a">150°</text>
<text x="662.1" y="663.8" font-size="6.6" text-anchor="middle" font-family="Liberation Serif" font-style="italic" fill="#3a3a5a">180°</text>
<text x="679" y="663.8" font-size="6.6" text-anchor="middle" font-family="Liberation Serif" font-style="italic" fill="#3a3a5a">200°</text>
<text transform="translate(455.3,625.8) rotate(-90)" text-anchor="middle" font-size="8.8" font-weight="bold" fill="#222">Energy, cm<tspan font-size="6" baseline-shift="3.5">-1</tspan></text>
<text x="562.8" y="679.2" font-size="9.2" font-weight="bold" fill="#333">α, degree</text>
<text x="232.6" y="45.8" font-size="16.2" font-weight="bold" fill="#111">C<tspan font-size="10.5" baseline-shift="-3.7">2</tspan></text>
<text x="235.6" y="213.6" font-size="16.2" font-weight="bold" fill="#111">C<tspan font-size="10.5" baseline-shift="-3.7">4</tspan></text>
<text x="241.4" y="357" font-size="16.2" font-weight="bold" fill="#111">C<tspan font-size="10.5" baseline-shift="-3.7">3</tspan></text>
<text x="238.8" y="514.8" font-size="15.2" font-weight="bold" fill="#111">C<tspan font-size="10.3" baseline-shift="-3.6">3</tspan> / S<tspan font-size="10.3" baseline-shift="-3.6">6</tspan></text>
<line x1="178.0" y1="77.5" x2="192.5" y2="80.3" stroke="#a8a8a8" stroke-width="2.2"/>
<line x1="178.0" y1="77.5" x2="174.5" y2="70.5" stroke="#a8a8a8" stroke-width="2.2"/><line x1="174.5" y1="70.5" x2="171.0" y2="63.5" stroke="#d8b8b8" stroke-width="2.2"/>
<line x1="192.5" y1="80.3" x2="194.0" y2="73.7" stroke="#a8a8a8" stroke-width="2.2"/><line x1="194.0" y1="73.7" x2="195.5" y2="67.0" stroke="#d8b8b8" stroke-width="2.2"/>
<line x1="178.0" y1="77.5" x2="173.4" y2="96.2" stroke="#a8a8a8" stroke-width="2.2"/>
<line x1="173.4" y1="96.2" x2="168.7" y2="95.8" stroke="#a8a8a8" stroke-width="2.2"/><line x1="168.7" y1="95.8" x2="164.0" y2="95.5" stroke="#d8b8b8" stroke-width="2.2"/>
<line x1="173.4" y1="96.2" x2="183.9" y2="116.0" stroke="#a8a8a8" stroke-width="2.2"/>
<line x1="192.5" y1="80.3" x2="197.2" y2="90.2" stroke="#a8a8a8" stroke-width="2.2"/><line x1="197.2" y1="90.2" x2="201.9" y2="100.2" stroke="#1a1ac8" stroke-width="2.2"/>
<line x1="201.9" y1="100.2" x2="202.2" y2="107.6" stroke="#1a1ac8" stroke-width="2.2"/><line x1="202.2" y1="107.6" x2="202.6" y2="114.9" stroke="#d01818" stroke-width="2.2"/>
<line x1="183.9" y1="116.0" x2="197.9" y2="118.4" stroke="#a8a8a8" stroke-width="2.2"/>
<line x1="263.3" y1="78.2" x2="277.3" y2="74.5" stroke="#a8a8a8" stroke-width="2.2"/>
<line x1="263.3" y1="78.2" x2="261.6" y2="71.5" stroke="#a8a8a8" stroke-width="2.2"/><line x1="261.6" y1="71.5" x2="259.8" y2="64.7" stroke="#d8b8b8" stroke-width="2.2"/>
<line x1="277.3" y1="74.5" x2="281.5" y2="92.7" stroke="#a8a8a8" stroke-width="2.2"/>
<line x1="281.5" y1="92.7" x2="286.2" y2="91.8" stroke="#a8a8a8" stroke-width="2.2"/><line x1="286.2" y1="91.8" x2="290.9" y2="90.8" stroke="#d8b8b8" stroke-width="2.2"/>
<line x1="281.5" y1="92.7" x2="271.9" y2="113.3" stroke="#a8a8a8" stroke-width="2.2"/>
<line x1="263.3" y1="78.2" x2="258.6" y2="88.3" stroke="#a8a8a8" stroke-width="2.2"/><line x1="258.6" y1="88.3" x2="253.9" y2="98.5" stroke="#1a1ac8" stroke-width="2.2"/>
<line x1="253.9" y1="98.5" x2="254.2" y2="106.7" stroke="#1a1ac8" stroke-width="2.2"/><line x1="254.2" y1="106.7" x2="254.4" y2="114.9" stroke="#d01818" stroke-width="2.2"/>
<line x1="271.9" y1="113.3" x2="259.3" y2="116.0" stroke="#a8a8a8" stroke-width="2.2"/>
<line x1="197.9" y1="118.4" x2="189.7" y2="132.8" stroke="#a8a8a8" stroke-width="2.2"/>
<line x1="189.7" y1="132.8" x2="185.0" y2="145.7" stroke="#a8a8a8" stroke-width="2.2"/>
<line x1="185.0" y1="145.7" x2="181.5" y2="149.2" stroke="#a8a8a8" stroke-width="2.2"/>
<line x1="181.5" y1="149.2" x2="172.2" y2="154.6" stroke="#a8a8a8" stroke-width="2.2"/>
<line x1="172.2" y1="154.6" x2="169.9" y2="169.1" stroke="#a8a8a8" stroke-width="2.2"/>
<line x1="169.9" y1="169.1" x2="164.0" y2="170.2" stroke="#a8a8a8" stroke-width="2.2"/>
<line x1="164.0" y1="170.2" x2="160.2" y2="176.4" stroke="#a8a8a8" stroke-width="2.2"/><line x1="160.2" y1="176.4" x2="156.5" y2="182.6" stroke="#d8b8b8" stroke-width="2.2"/>
<line x1="169.9" y1="169.1" x2="166.9" y2="174.3" stroke="#a8a8a8" stroke-width="2.2"/><line x1="166.9" y1="174.3" x2="164.0" y2="179.6" stroke="#d8b8b8" stroke-width="2.2"/>
<line x1="172.2" y1="154.6" x2="175.3" y2="156.9" stroke="#a8a8a8" stroke-width="2.2"/><line x1="175.3" y1="156.9" x2="178.5" y2="159.2" stroke="#d8b8b8" stroke-width="2.2"/>
<line x1="259.3" y1="116.0" x2="266.8" y2="132.8" stroke="#a8a8a8" stroke-width="2.2"/>
<line x1="266.8" y1="132.8" x2="271.5" y2="136.4" stroke="#a8a8a8" stroke-width="2.2"/>
<line x1="271.5" y1="136.4" x2="270.3" y2="144.5" stroke="#a8a8a8" stroke-width="2.2"/>
<line x1="270.3" y1="144.5" x2="275.0" y2="149.2" stroke="#a8a8a8" stroke-width="2.2"/>
<line x1="275.0" y1="149.2" x2="283.1" y2="155.0" stroke="#a8a8a8" stroke-width="2.2"/>
<line x1="283.1" y1="155.0" x2="287.8" y2="166.7" stroke="#a8a8a8" stroke-width="2.2"/>
<line x1="287.8" y1="166.7" x2="292.5" y2="169.8" stroke="#a8a8a8" stroke-width="2.2"/>
<line x1="292.5" y1="169.8" x2="292.8" y2="174.1" stroke="#a8a8a8" stroke-width="2.2"/><line x1="292.8" y1="174.1" x2="293.0" y2="178.4" stroke="#d8b8b8" stroke-width="2.2"/>
<line x1="287.8" y1="166.7" x2="294.2" y2="174.6" stroke="#a8a8a8" stroke-width="2.2"/><line x1="294.2" y1="174.6" x2="300.7" y2="182.6" stroke="#d8b8b8" stroke-width="2.2"/>
<line x1="197.9" y1="118.4" x2="208.9" y2="140.6" stroke="#a8a8a8" stroke-width="2.2"/>
<line x1="208.9" y1="140.6" x2="209.6" y2="142.9" stroke="#a8a8a8" stroke-width="2.2"/><line x1="209.6" y1="142.9" x2="210.3" y2="145.2" stroke="#1a1ac8" stroke-width="2.2"/>
<line x1="210.3" y1="145.2" x2="216.9" y2="154.6" stroke="#1a1ac8" stroke-width="2.2"/><line x1="216.9" y1="154.6" x2="223.6" y2="163.9" stroke="#a8a8a8" stroke-width="2.2"/>
<line x1="223.6" y1="163.9" x2="234.1" y2="163.2" stroke="#a8a8a8" stroke-width="2.2"/>
<line x1="234.1" y1="163.2" x2="240.8" y2="152.7" stroke="#a8a8a8" stroke-width="2.2"/><line x1="240.8" y1="152.7" x2="247.6" y2="142.2" stroke="#1a1ac8" stroke-width="2.2"/>
<line x1="247.6" y1="142.2" x2="247.8" y2="139.8" stroke="#1a1ac8" stroke-width="2.2"/><line x1="247.8" y1="139.8" x2="248.1" y2="137.5" stroke="#a8a8a8" stroke-width="2.2"/>
<line x1="248.1" y1="137.5" x2="259.3" y2="116.0" stroke="#a8a8a8" stroke-width="2.2"/>
<line x1="210.3" y1="145.2" x2="205.2" y2="148.9" stroke="#1a1ac8" stroke-width="2.2"/><line x1="205.2" y1="148.9" x2="200.2" y2="152.7" stroke="#d8b8b8" stroke-width="2.2"/>
<line x1="247.6" y1="142.2" x2="251.9" y2="146.3" stroke="#1a1ac8" stroke-width="2.2"/><line x1="251.9" y1="146.3" x2="256.3" y2="150.4" stroke="#d8b8b8" stroke-width="2.2"/>
<line x1="223.6" y1="163.9" x2="218.9" y2="170.4" stroke="#a8a8a8" stroke-width="2.2"/><line x1="218.9" y1="170.4" x2="214.2" y2="176.8" stroke="#d8b8b8" stroke-width="2.2"/>
<line x1="234.1" y1="163.2" x2="239.0" y2="169.6" stroke="#a8a8a8" stroke-width="2.2"/><line x1="239.0" y1="169.6" x2="243.9" y2="176.1" stroke="#d8b8b8" stroke-width="2.2"/>
<line x1="210.3" y1="145.2" x2="197.7" y2="145.4" stroke="#1a1ac8" stroke-width="2.2"/><line x1="197.7" y1="145.4" x2="185.0" y2="145.7" stroke="#a8a8a8" stroke-width="2.2"/>
<line x1="247.6" y1="142.2" x2="258.9" y2="143.3" stroke="#1a1ac8" stroke-width="2.2"/><line x1="258.9" y1="143.3" x2="270.3" y2="144.5" stroke="#a8a8a8" stroke-width="2.2"/>
<line x1="202.6" y1="114.9" x2="215.2" y2="110.8" stroke="#d01818" stroke-width="2.2"/><line x1="215.2" y1="110.8" x2="227.8" y2="106.7" stroke="#20d020" stroke-width="2.2"/>
<line x1="254.4" y1="114.9" x2="241.1" y2="110.8" stroke="#d01818" stroke-width="2.2"/><line x1="241.1" y1="110.8" x2="227.8" y2="106.7" stroke="#20d020" stroke-width="2.2"/>
<line x1="227.4" y1="60.8" x2="227.6" y2="83.8" stroke="#18d0d0" stroke-width="2.2"/><line x1="227.6" y1="83.8" x2="227.8" y2="106.7" stroke="#20d020" stroke-width="2.2"/>
<line x1="180.5" y1="139.5" x2="176.5" y2="152.0" stroke="#a8a8a8" stroke-width="2.2"/>
<line x1="176.5" y1="152.0" x2="166.0" y2="163.0" stroke="#a8a8a8" stroke-width="2.2"/>
<line x1="276.5" y1="141.0" x2="281.0" y2="151.5" stroke="#a8a8a8" stroke-width="2.2"/>
<line x1="281.0" y1="151.5" x2="291.0" y2="160.5" stroke="#a8a8a8" stroke-width="2.2"/>
<line x1="208.9" y1="140.6" x2="216.8" y2="140.6" stroke="#a8a8a8" stroke-width="2.2"/><line x1="216.8" y1="140.6" x2="224.7" y2="140.6" stroke="#d8b8b8" stroke-width="2.2"/>
<line x1="248.1" y1="137.5" x2="240.1" y2="138.1" stroke="#a8a8a8" stroke-width="2.2"/><line x1="240.1" y1="138.1" x2="232.2" y2="138.7" stroke="#d8b8b8" stroke-width="2.2"/>
<circle cx="178.0" cy="77.5" r="5.2" fill="#ececec" stroke="#6e6e6e" stroke-width="0.7"/>
<circle cx="192.5" cy="80.3" r="5.2" fill="#ececec" stroke="#6e6e6e" stroke-width="0.7"/>
<circle cx="171.0" cy="63.5" r="2.8" fill="#fcdada" stroke="#a88080" stroke-width="0.7"/>
<circle cx="195.5" cy="67.0" r="2.8" fill="#fcdada" stroke="#a88080" stroke-width="0.7"/>
<circle cx="164.0" cy="95.5" r="2.8" fill="#fcdada" stroke="#a88080" stroke-width="0.7"/>
<circle cx="173.4" cy="96.2" r="5.2" fill="#ececec" stroke="#6e6e6e" stroke-width="0.7"/>
<circle cx="263.3" cy="78.2" r="5.2" fill="#ececec" stroke="#6e6e6e" stroke-width="0.7"/>
<circle cx="277.3" cy="74.5" r="5.2" fill="#ececec" stroke="#6e6e6e" stroke-width="0.7"/>
<circle cx="281.5" cy="92.7" r="5.2" fill="#ececec" stroke="#6e6e6e" stroke-width="0.7"/>
<circle cx="259.8" cy="64.7" r="2.8" fill="#fcdada" stroke="#a88080" stroke-width="0.7"/>
<circle cx="290.9" cy="90.8" r="2.8" fill="#fcdada" stroke="#a88080" stroke-width="0.7"/>
<circle cx="271.9" cy="113.3" r="5.2" fill="#ececec" stroke="#6e6e6e" stroke-width="0.7"/>
<circle cx="259.3" cy="116.0" r="5.2" fill="#ececec" stroke="#6e6e6e" stroke-width="0.7"/>
<circle cx="189.7" cy="124.2" r="2.8" fill="#fcdada" stroke="#a88080" stroke-width="0.7"/>
<circle cx="175.7" cy="130.5" r="2.8" fill="#fcdada" stroke="#a88080" stroke-width="0.7"/>
<circle cx="180.4" cy="129.8" r="2.8" fill="#fcdada" stroke="#a88080" stroke-width="0.7"/>
<circle cx="189.7" cy="132.8" r="5.2" fill="#ececec" stroke="#6e6e6e" stroke-width="0.7"/>
<circle cx="181.5" cy="149.2" r="5.2" fill="#ececec" stroke="#6e6e6e" stroke-width="0.7"/>
<circle cx="185.0" cy="145.7" r="5.2" fill="#ececec" stroke="#6e6e6e" stroke-width="0.7"/>
<circle cx="180.5" cy="139.5" r="5.2" fill="#ececec" stroke="#6e6e6e" stroke-width="0.7"/>
<circle cx="176.5" cy="152.0" r="5.2" fill="#ececec" stroke="#6e6e6e" stroke-width="0.7"/>
<circle cx="166.0" cy="163.0" r="5.2" fill="#ececec" stroke="#6e6e6e" stroke-width="0.7"/>
<circle cx="172.2" cy="154.6" r="5.2" fill="#ececec" stroke="#6e6e6e" stroke-width="0.7"/>
<circle cx="178.5" cy="159.2" r="2.8" fill="#fcdada" stroke="#a88080" stroke-width="0.7"/>
<circle cx="164.0" cy="170.2" r="5.2" fill="#ececec" stroke="#6e6e6e" stroke-width="0.7"/>
<circle cx="169.9" cy="169.1" r="5.2" fill="#ececec" stroke="#6e6e6e" stroke-width="0.7"/>
<circle cx="156.5" cy="182.6" r="2.8" fill="#fcdada" stroke="#a88080" stroke-width="0.7"/>
<circle cx="164.0" cy="179.6" r="2.8" fill="#fcdada" stroke="#a88080" stroke-width="0.7"/>
<circle cx="266.3" cy="124.7" r="2.8" fill="#fcdada" stroke="#a88080" stroke-width="0.7"/>
<circle cx="276.1" cy="126.5" r="2.8" fill="#fcdada" stroke="#a88080" stroke-width="0.7"/>
<circle cx="279.6" cy="130.5" r="2.8" fill="#fcdada" stroke="#a88080" stroke-width="0.7"/>
<circle cx="266.8" cy="132.8" r="5.2" fill="#ececec" stroke="#6e6e6e" stroke-width="0.7"/>
<circle cx="271.5" cy="136.4" r="5.2" fill="#ececec" stroke="#6e6e6e" stroke-width="0.7"/>
<circle cx="270.3" cy="144.5" r="5.2" fill="#ececec" stroke="#6e6e6e" stroke-width="0.7"/>
<circle cx="276.5" cy="141.0" r="5.2" fill="#ececec" stroke="#6e6e6e" stroke-width="0.7"/>
<circle cx="281.0" cy="151.5" r="5.2" fill="#ececec" stroke="#6e6e6e" stroke-width="0.7"/>
<circle cx="291.0" cy="160.5" r="5.2" fill="#ececec" stroke="#6e6e6e" stroke-width="0.7"/>
<circle cx="275.0" cy="149.2" r="5.2" fill="#ececec" stroke="#6e6e6e" stroke-width="0.7"/>
<circle cx="283.1" cy="155.0" r="5.2" fill="#ececec" stroke="#6e6e6e" stroke-width="0.7"/>
<circle cx="278.5" cy="157.4" r="2.8" fill="#fcdada" stroke="#a88080" stroke-width="0.7"/>
<circle cx="286.7" cy="156.9" r="2.8" fill="#fcdada" stroke="#a88080" stroke-width="0.7"/>
<circle cx="287.8" cy="166.7" r="5.2" fill="#ececec" stroke="#6e6e6e" stroke-width="0.7"/>
<circle cx="292.5" cy="169.8" r="5.2" fill="#ececec" stroke="#6e6e6e" stroke-width="0.7"/>
<circle cx="293.0" cy="178.4" r="2.8" fill="#fcdada" stroke="#a88080" stroke-width="0.7"/>
<circle cx="300.7" cy="182.6" r="2.8" fill="#fcdada" stroke="#a88080" stroke-width="0.7"/>
<circle cx="201.9" cy="100.2" r="4.6" fill="#1e1ee8" stroke="#000050" stroke-width="0.7"/>
<circle cx="253.9" cy="98.5" r="4.6" fill="#1e1ee8" stroke="#000050" stroke-width="0.7"/>
<circle cx="202.6" cy="114.9" r="4.2" fill="#f21818" stroke="#6a0000" stroke-width="0.7"/>
<circle cx="254.4" cy="114.9" r="4.6" fill="#f21818" stroke="#6a0000" stroke-width="0.7"/>
<circle cx="183.9" cy="116.0" r="5.2" fill="#ececec" stroke="#6e6e6e" stroke-width="0.7"/>
<circle cx="197.9" cy="118.4" r="5.2" fill="#ececec" stroke="#6e6e6e" stroke-width="0.7"/>
<circle cx="210.3" cy="145.2" r="4.6" fill="#1e1ee8" stroke="#000050" stroke-width="0.7"/>
<circle cx="208.9" cy="140.6" r="5.2" fill="#ececec" stroke="#6e6e6e" stroke-width="0.7"/>
<circle cx="200.2" cy="152.7" r="2.8" fill="#fcdada" stroke="#a88080" stroke-width="0.7"/>
<circle cx="248.1" cy="137.5" r="5.2" fill="#ececec" stroke="#6e6e6e" stroke-width="0.7"/>
<circle cx="247.6" cy="142.2" r="4.9" fill="#1e1ee8" stroke="#000050" stroke-width="0.7"/>
<circle cx="256.3" cy="150.4" r="2.8" fill="#fcdada" stroke="#a88080" stroke-width="0.7"/>
<line x1="227.9" y1="43.6" x2="227.9" y2="174.4" stroke="#1c1c1c" stroke-width="3.6"/><path d="M223.9 44.1 L227.9 39.1 L231.9 44.1Z" fill="#1c1c1c"/>
<circle cx="224.7" cy="140.6" r="2.8" fill="#fcdada" stroke="#a88080" stroke-width="0.7"/>
<circle cx="232.2" cy="138.7" r="2.8" fill="#fcdada" stroke="#a88080" stroke-width="0.7"/>
<circle cx="223.6" cy="163.9" r="5.2" fill="#ececec" stroke="#6e6e6e" stroke-width="0.7"/>
<circle cx="234.1" cy="163.2" r="5.2" fill="#ececec" stroke="#6e6e6e" stroke-width="0.7"/>
<circle cx="235.3" cy="165.5" r="2.8" fill="#fcdada" stroke="#a88080" stroke-width="0.7"/>
<circle cx="214.2" cy="176.8" r="2.8" fill="#fcdada" stroke="#a88080" stroke-width="0.7"/>
<circle cx="243.9" cy="176.1" r="2.8" fill="#fcdada" stroke="#a88080" stroke-width="0.7"/>
<circle cx="227.4" cy="60.8" r="7" fill="#22f0f2" stroke="#0a5a5a" stroke-width="0.7"/>
<circle cx="227.8" cy="106.7" r="11.7" fill="#1ef01e" stroke="#0a5a0a" stroke-width="0.7"/>
<polyline points="152,233 175,232 200,240 225,244 235,244 260,240 285,232 308,233" fill="none" stroke="#9a9a9a" stroke-width="2.2"/>
<polyline points="155,236 180,238 205,243 255,243 280,238 305,236" fill="none" stroke="#aaa" stroke-width="1.6"/>
<polyline points="152,305.5 175,304.5 200,295.0 225,299.0 235,299.0 260,295.0 285,304.5 308,305.5" fill="none" stroke="#9a9a9a" stroke-width="2.2"/>
<polyline points="155,308.5 180,310.5 205,298.0 255,298.0 280,310.5 305,308.5" fill="none" stroke="#aaa" stroke-width="1.6"/>
<line x1="230.1" y1="271.0" x2="218.6" y2="259.4" stroke="#6a18c8" stroke-width="3.4"/>
<line x1="218.6" y1="259.4" x2="207.2" y2="247.7" stroke="#1a1ac8" stroke-width="3.4"/>
<line x1="230.1" y1="271.0" x2="218.6" y2="282.4" stroke="#6a18c8" stroke-width="3.4"/>
<line x1="218.6" y1="282.4" x2="207.2" y2="293.8" stroke="#1a1ac8" stroke-width="3.4"/>
<line x1="230.1" y1="271.0" x2="241.6" y2="259.4" stroke="#6a18c8" stroke-width="3.4"/>
<line x1="241.6" y1="259.4" x2="253.0" y2="247.7" stroke="#1a1ac8" stroke-width="3.4"/>
<line x1="230.1" y1="271.0" x2="241.6" y2="282.4" stroke="#6a18c8" stroke-width="3.4"/>
<line x1="241.6" y1="282.4" x2="253.0" y2="293.8" stroke="#1a1ac8" stroke-width="3.4"/>
<circle cx="178.7" cy="246.3" r="4.4" fill="#c4c8f0" stroke="#6a6a8a" stroke-width="0.7"/>
<circle cx="151.0" cy="231.0" r="4.4" fill="#ececec" stroke="#6e6e6e" stroke-width="0.7"/>
<circle cx="157.5" cy="230.2" r="4.4" fill="#ececec" stroke="#6e6e6e" stroke-width="0.7"/>
<circle cx="156.8" cy="235.3" r="4.4" fill="#ececec" stroke="#6e6e6e" stroke-width="0.7"/>
<circle cx="160.4" cy="236.0" r="4.4" fill="#ececec" stroke="#6e6e6e" stroke-width="0.7"/>
<circle cx="165.5" cy="231.4" r="4.4" fill="#ececec" stroke="#6e6e6e" stroke-width="0.7"/>
<circle cx="172.1" cy="229.9" r="4.4" fill="#ececec" stroke="#6e6e6e" stroke-width="0.7"/>
<circle cx="168.0" cy="236.5" r="4.4" fill="#ececec" stroke="#6e6e6e" stroke-width="0.7"/>
<circle cx="177.2" cy="240.4" r="4.4" fill="#ececec" stroke="#6e6e6e" stroke-width="0.7"/>
<circle cx="183.0" cy="238.0" r="4.4" fill="#ececec" stroke="#6e6e6e" stroke-width="0.7"/>
<circle cx="185.3" cy="235.3" r="4.4" fill="#ececec" stroke="#6e6e6e" stroke-width="0.7"/>
<circle cx="191.8" cy="233.9" r="4.4" fill="#ececec" stroke="#6e6e6e" stroke-width="0.7"/>
<circle cx="190.4" cy="240.4" r="4.4" fill="#ececec" stroke="#6e6e6e" stroke-width="0.7"/>
<circle cx="188.9" cy="245.5" r="4.4" fill="#ececec" stroke="#6e6e6e" stroke-width="0.7"/>
<circle cx="196.2" cy="239.7" r="4.4" fill="#ececec" stroke="#6e6e6e" stroke-width="0.7"/>
<circle cx="201.0" cy="242.0" r="4.4" fill="#ececec" stroke="#6e6e6e" stroke-width="0.7"/>
<circle cx="215.2" cy="244.1" r="4.4" fill="#ececec" stroke="#6e6e6e" stroke-width="0.7"/>
<circle cx="210.0" cy="244.1" r="4.4" fill="#ececec" stroke="#6e6e6e" stroke-width="0.7"/>
<circle cx="178.7" cy="293.4" r="4.4" fill="#c4c8f0" stroke="#6a6a8a" stroke-width="0.7"/>
<circle cx="151.0" cy="307.0" r="4.4" fill="#ececec" stroke="#6e6e6e" stroke-width="0.7"/>
<circle cx="157.5" cy="308.2" r="4.4" fill="#ececec" stroke="#6e6e6e" stroke-width="0.7"/>
<circle cx="156.8" cy="303.1" r="4.4" fill="#ececec" stroke="#6e6e6e" stroke-width="0.7"/>
<circle cx="160.4" cy="302.6" r="4.4" fill="#ececec" stroke="#6e6e6e" stroke-width="0.7"/>
<circle cx="165.5" cy="307.5" r="4.4" fill="#ececec" stroke="#6e6e6e" stroke-width="0.7"/>
<circle cx="172.1" cy="309.4" r="4.4" fill="#ececec" stroke="#6e6e6e" stroke-width="0.7"/>
<circle cx="168.0" cy="302.6" r="4.4" fill="#ececec" stroke="#6e6e6e" stroke-width="0.7"/>
<circle cx="177.2" cy="299.2" r="4.4" fill="#ececec" stroke="#6e6e6e" stroke-width="0.7"/>
<circle cx="183.0" cy="302.0" r="4.4" fill="#ececec" stroke="#6e6e6e" stroke-width="0.7"/>
<circle cx="185.3" cy="304.8" r="4.4" fill="#ececec" stroke="#6e6e6e" stroke-width="0.7"/>
<circle cx="191.8" cy="306.6" r="4.4" fill="#ececec" stroke="#6e6e6e" stroke-width="0.7"/>
<circle cx="190.4" cy="300.1" r="4.4" fill="#ececec" stroke="#6e6e6e" stroke-width="0.7"/>
<circle cx="188.9" cy="294.9" r="4.4" fill="#ececec" stroke="#6e6e6e" stroke-width="0.7"/>
<circle cx="196.2" cy="301.1" r="4.4" fill="#ececec" stroke="#6e6e6e" stroke-width="0.7"/>
<circle cx="201.0" cy="299.1" r="4.4" fill="#ececec" stroke="#6e6e6e" stroke-width="0.7"/>
<circle cx="215.2" cy="297.9" r="4.4" fill="#ececec" stroke="#6e6e6e" stroke-width="0.7"/>
<circle cx="210.0" cy="297.6" r="4.4" fill="#ececec" stroke="#6e6e6e" stroke-width="0.7"/>
<circle cx="281.5" cy="246.3" r="4.4" fill="#c4c8f0" stroke="#6a6a8a" stroke-width="0.7"/>
<circle cx="309.2" cy="231.0" r="4.4" fill="#ececec" stroke="#6e6e6e" stroke-width="0.7"/>
<circle cx="302.7" cy="230.2" r="4.4" fill="#ececec" stroke="#6e6e6e" stroke-width="0.7"/>
<circle cx="303.4" cy="235.3" r="4.4" fill="#ececec" stroke="#6e6e6e" stroke-width="0.7"/>
<circle cx="299.8" cy="236.0" r="4.4" fill="#ececec" stroke="#6e6e6e" stroke-width="0.7"/>
<circle cx="294.7" cy="231.4" r="4.4" fill="#ececec" stroke="#6e6e6e" stroke-width="0.7"/>
<circle cx="288.1" cy="229.9" r="4.4" fill="#ececec" stroke="#6e6e6e" stroke-width="0.7"/>
<circle cx="292.2" cy="236.5" r="4.4" fill="#ececec" stroke="#6e6e6e" stroke-width="0.7"/>
<circle cx="283.0" cy="240.4" r="4.4" fill="#ececec" stroke="#6e6e6e" stroke-width="0.7"/>
<circle cx="277.2" cy="238.0" r="4.4" fill="#ececec" stroke="#6e6e6e" stroke-width="0.7"/>
<circle cx="274.9" cy="235.3" r="4.4" fill="#ececec" stroke="#6e6e6e" stroke-width="0.7"/>
<circle cx="268.4" cy="233.9" r="4.4" fill="#ececec" stroke="#6e6e6e" stroke-width="0.7"/>
<circle cx="269.8" cy="240.4" r="4.4" fill="#ececec" stroke="#6e6e6e" stroke-width="0.7"/>
<circle cx="271.3" cy="245.5" r="4.4" fill="#ececec" stroke="#6e6e6e" stroke-width="0.7"/>
<circle cx="264.0" cy="239.7" r="4.4" fill="#ececec" stroke="#6e6e6e" stroke-width="0.7"/>
<circle cx="259.2" cy="242.0" r="4.4" fill="#ececec" stroke="#6e6e6e" stroke-width="0.7"/>
<circle cx="245.0" cy="244.1" r="4.4" fill="#ececec" stroke="#6e6e6e" stroke-width="0.7"/>
<circle cx="250.2" cy="244.1" r="4.4" fill="#ececec" stroke="#6e6e6e" stroke-width="0.7"/>
<circle cx="281.5" cy="293.4" r="4.4" fill="#c4c8f0" stroke="#6a6a8a" stroke-width="0.7"/>
<circle cx="309.2" cy="307.0" r="4.4" fill="#ececec" stroke="#6e6e6e" stroke-width="0.7"/>
<circle cx="302.7" cy="308.2" r="4.4" fill="#ececec" stroke="#6e6e6e" stroke-width="0.7"/>
<circle cx="303.4" cy="303.1" r="4.4" fill="#ececec" stroke="#6e6e6e" stroke-width="0.7"/>
<circle cx="299.8" cy="302.6" r="4.4" fill="#ececec" stroke="#6e6e6e" stroke-width="0.7"/>
<circle cx="294.7" cy="307.5" r="4.4" fill="#ececec" stroke="#6e6e6e" stroke-width="0.7"/>
<circle cx="288.1" cy="309.4" r="4.4" fill="#ececec" stroke="#6e6e6e" stroke-width="0.7"/>
<circle cx="292.2" cy="302.6" r="4.4" fill="#ececec" stroke="#6e6e6e" stroke-width="0.7"/>
<circle cx="283.0" cy="299.2" r="4.4" fill="#ececec" stroke="#6e6e6e" stroke-width="0.7"/>
<circle cx="277.2" cy="302.0" r="4.4" fill="#ececec" stroke="#6e6e6e" stroke-width="0.7"/>
<circle cx="274.9" cy="304.8" r="4.4" fill="#ececec" stroke="#6e6e6e" stroke-width="0.7"/>
<circle cx="268.4" cy="306.6" r="4.4" fill="#ececec" stroke="#6e6e6e" stroke-width="0.7"/>
<circle cx="269.8" cy="300.1" r="4.4" fill="#ececec" stroke="#6e6e6e" stroke-width="0.7"/>
<circle cx="271.3" cy="294.9" r="4.4" fill="#ececec" stroke="#6e6e6e" stroke-width="0.7"/>
<circle cx="264.0" cy="301.1" r="4.4" fill="#ececec" stroke="#6e6e6e" stroke-width="0.7"/>
<circle cx="259.2" cy="299.1" r="4.4" fill="#ececec" stroke="#6e6e6e" stroke-width="0.7"/>
<circle cx="245.0" cy="297.9" r="4.4" fill="#ececec" stroke="#6e6e6e" stroke-width="0.7"/>
<circle cx="250.2" cy="297.6" r="4.4" fill="#ececec" stroke="#6e6e6e" stroke-width="0.7"/>
<circle cx="207.2" cy="247.7" r="4.4" fill="#1e1ee8" stroke="#000050" stroke-width="0.7"/>
<circle cx="207.2" cy="293.8" r="4.4" fill="#1e1ee8" stroke="#000050" stroke-width="0.7"/>
<circle cx="253.0" cy="247.7" r="4.4" fill="#1e1ee8" stroke="#000050" stroke-width="0.7"/>
<circle cx="253.0" cy="293.8" r="4.4" fill="#1e1ee8" stroke="#000050" stroke-width="0.7"/>
<circle cx="210.0" cy="244.1" r="4.4" fill="#ececec" stroke="#6e6e6e" stroke-width="0.7"/>
<circle cx="210.0" cy="297.6" r="4.4" fill="#ececec" stroke="#6e6e6e" stroke-width="0.7"/>
<circle cx="250.2" cy="244.1" r="4.4" fill="#ececec" stroke="#6e6e6e" stroke-width="0.7"/>
<circle cx="250.2" cy="297.6" r="4.4" fill="#ececec" stroke="#6e6e6e" stroke-width="0.7"/>
<line x1="230.2" y1="215.5" x2="230.2" y2="331.4" stroke="#1c1c1c" stroke-width="4.0"/><path d="M226.4 216.0 L230.2 211 L233.9 216.0Z" fill="#1c1c1c"/>
<circle cx="227.6" cy="244.1" r="4.5" fill="#c4c8f0" stroke="#6a6a8a" stroke-width="0.7"/>
<circle cx="233.4" cy="244.1" r="4.5" fill="#c4c8f0" stroke="#6a6a8a" stroke-width="0.7"/>
<circle cx="227.6" cy="297.9" r="4.5" fill="#c4c8f0" stroke="#6a6a8a" stroke-width="0.7"/>
<circle cx="233.4" cy="297.9" r="4.5" fill="#c4c8f0" stroke="#6a6a8a" stroke-width="0.7"/>
<circle cx="230.1" cy="271.0" r="11" fill="#9020f0" stroke="#3a0860" stroke-width="0.7"/>
<line x1="195.5" y1="372.2" x2="200.8" y2="378.9" stroke="#d8b0b0" stroke-width="2.4"/><line x1="200.8" y1="378.9" x2="206.1" y2="385.5" stroke="#a8a8a8" stroke-width="2.4"/>
<line x1="203.7" y1="370.4" x2="204.9" y2="377.9" stroke="#d8b0b0" stroke-width="2.4"/><line x1="204.9" y1="377.9" x2="206.1" y2="385.5" stroke="#a8a8a8" stroke-width="2.4"/>
<line x1="206.1" y1="385.5" x2="206.6" y2="388.2" stroke="#a8a8a8" stroke-width="2.4"/><line x1="206.6" y1="388.2" x2="207.2" y2="390.9" stroke="#d01818" stroke-width="2.4"/>
<line x1="206.1" y1="385.5" x2="185.0" y2="400.7" stroke="#a8a8a8" stroke-width="2.4"/>
<line x1="185.0" y1="400.7" x2="178.9" y2="395.4" stroke="#a8a8a8" stroke-width="2.4"/><line x1="178.9" y1="395.4" x2="172.9" y2="390.2" stroke="#d8b0d8" stroke-width="2.4"/>
<line x1="185.0" y1="400.7" x2="182.1" y2="404.2" stroke="#a8a8a8" stroke-width="2.4"/><line x1="182.1" y1="404.2" x2="179.2" y2="407.7" stroke="#d8b0d8" stroke-width="2.4"/>
<line x1="185.0" y1="400.7" x2="188.8" y2="408.9" stroke="#a8a8a8" stroke-width="2.4"/><line x1="188.8" y1="408.9" x2="192.7" y2="417.1" stroke="#d01818" stroke-width="2.4"/>
<line x1="192.7" y1="417.1" x2="182.8" y2="423.3" stroke="#d01818" stroke-width="2.4"/><line x1="182.8" y1="423.3" x2="172.9" y2="429.5" stroke="#a8a8a8" stroke-width="2.4"/>
<line x1="172.9" y1="429.5" x2="167.9" y2="424.2" stroke="#a8a8a8" stroke-width="2.4"/><line x1="167.9" y1="424.2" x2="162.8" y2="419.0" stroke="#d8b0d8" stroke-width="2.4"/>
<line x1="172.9" y1="429.5" x2="169.1" y2="432.6" stroke="#a8a8a8" stroke-width="2.4"/><line x1="169.1" y1="432.6" x2="165.2" y2="435.8" stroke="#d8b0d8" stroke-width="2.4"/>
<line x1="172.9" y1="429.5" x2="182.2" y2="447.5" stroke="#a8a8a8" stroke-width="2.4"/>
<line x1="182.2" y1="447.5" x2="192.8" y2="445.8" stroke="#a8a8a8" stroke-width="2.4"/><line x1="192.8" y1="445.8" x2="203.3" y2="444.0" stroke="#d01818" stroke-width="2.4"/>
<line x1="182.2" y1="447.5" x2="175.4" y2="454.5" stroke="#a8a8a8" stroke-width="2.4"/><line x1="175.4" y1="454.5" x2="168.7" y2="461.5" stroke="#d8b0b0" stroke-width="2.4"/>
<line x1="292.5" y1="366.4" x2="285.2" y2="374.5" stroke="#d8b0b0" stroke-width="2.4"/><line x1="285.2" y1="374.5" x2="278.0" y2="382.7" stroke="#a8a8a8" stroke-width="2.4"/>
<line x1="278.0" y1="382.7" x2="268.3" y2="383.9" stroke="#a8a8a8" stroke-width="2.4"/><line x1="268.3" y1="383.9" x2="258.6" y2="385.1" stroke="#d01818" stroke-width="2.4"/>
<line x1="278.0" y1="382.7" x2="288.3" y2="401.9" stroke="#a8a8a8" stroke-width="2.4"/>
<line x1="288.3" y1="401.9" x2="291.8" y2="398.0" stroke="#a8a8a8" stroke-width="2.4"/><line x1="291.8" y1="398.0" x2="295.3" y2="394.2" stroke="#d8b0d8" stroke-width="2.4"/>
<line x1="288.3" y1="401.9" x2="293.9" y2="406.5" stroke="#a8a8a8" stroke-width="2.4"/><line x1="293.9" y1="406.5" x2="299.5" y2="411.2" stroke="#d8b0d8" stroke-width="2.4"/>
<line x1="288.3" y1="401.9" x2="278.5" y2="408.5" stroke="#a8a8a8" stroke-width="2.4"/><line x1="278.5" y1="408.5" x2="268.7" y2="415.2" stroke="#d01818" stroke-width="2.4"/>
<line x1="268.7" y1="415.2" x2="272.4" y2="424.6" stroke="#d01818" stroke-width="2.4"/><line x1="272.4" y1="424.6" x2="276.1" y2="434.1" stroke="#a8a8a8" stroke-width="2.4"/>
<line x1="276.1" y1="434.1" x2="279.6" y2="432.1" stroke="#a8a8a8" stroke-width="2.4"/><line x1="279.6" y1="432.1" x2="283.1" y2="430.0" stroke="#d8b0d8" stroke-width="2.4"/>
<line x1="276.1" y1="434.1" x2="281.7" y2="438.8" stroke="#a8a8a8" stroke-width="2.4"/><line x1="281.7" y1="438.8" x2="287.3" y2="443.5" stroke="#d8b0d8" stroke-width="2.4"/>
<line x1="224.7" y1="388.6" x2="215.4" y2="387.1" stroke="#d01818" stroke-width="2.4"/><line x1="215.4" y1="387.1" x2="206.1" y2="385.5" stroke="#a8a8a8" stroke-width="2.4"/>
<line x1="249.4" y1="434.1" x2="255.1" y2="430.1" stroke="#a8a8a8" stroke-width="2.4"/><line x1="255.1" y1="430.1" x2="260.8" y2="426.2" stroke="#d8b0d8" stroke-width="2.4"/>
<line x1="249.4" y1="434.1" x2="254.6" y2="450.0" stroke="#a8a8a8" stroke-width="2.4"/>
<line x1="235.3" y1="392.6" x2="242.4" y2="413.4" stroke="#d8b0d8" stroke-width="2.4"/><line x1="242.4" y1="413.4" x2="249.4" y2="434.1" stroke="#a8a8a8" stroke-width="2.4"/>
<line x1="214.2" y1="411.2" x2="231.8" y2="422.6" stroke="#d8b0d8" stroke-width="2.4"/><line x1="231.8" y1="422.6" x2="249.4" y2="434.1" stroke="#a8a8a8" stroke-width="2.4"/>
<line x1="231.8" y1="416.6" x2="228.2" y2="402.6" stroke="#7a18d8" stroke-width="2.6"/><line x1="228.2" y1="402.6" x2="224.7" y2="388.6" stroke="#c01010" stroke-width="2.6"/>
<line x1="231.8" y1="416.6" x2="245.2" y2="400.9" stroke="#7a18d8" stroke-width="2.6"/><line x1="245.2" y1="400.9" x2="258.6" y2="385.1" stroke="#c01010" stroke-width="2.6"/>
<line x1="231.8" y1="416.6" x2="219.5" y2="403.8" stroke="#7a18d8" stroke-width="2.6"/><line x1="219.5" y1="403.8" x2="207.2" y2="390.9" stroke="#c01010" stroke-width="2.6"/>
<line x1="231.8" y1="416.6" x2="212.2" y2="416.9" stroke="#7a18d8" stroke-width="2.6"/><line x1="212.2" y1="416.9" x2="192.7" y2="417.1" stroke="#c01010" stroke-width="2.6"/>
<line x1="231.8" y1="416.6" x2="250.2" y2="415.9" stroke="#7a18d8" stroke-width="2.6"/><line x1="250.2" y1="415.9" x2="268.7" y2="415.2" stroke="#c01010" stroke-width="2.6"/>
<line x1="231.8" y1="416.6" x2="217.6" y2="430.3" stroke="#7a18d8" stroke-width="2.6"/><line x1="217.6" y1="430.3" x2="203.3" y2="444.0" stroke="#c01010" stroke-width="2.6"/>
<circle cx="195.5" cy="372.2" r="5.2" fill="#fcd6d6" stroke="#a87878" stroke-width="0.7"/>
<circle cx="203.7" cy="370.4" r="5.2" fill="#fcd6d6" stroke="#a87878" stroke-width="0.7"/>
<circle cx="172.9" cy="390.2" r="2.8" fill="#f6d6f6" stroke="#a080a0" stroke-width="0.7"/>
<circle cx="179.2" cy="407.7" r="2.8" fill="#f6d6f6" stroke="#a080a0" stroke-width="0.7"/>
<circle cx="235.3" cy="392.6" r="2.8" fill="#f6d6f6" stroke="#a080a0" stroke-width="0.7"/>
<circle cx="214.2" cy="411.2" r="2.8" fill="#f6d6f6" stroke="#a080a0" stroke-width="0.7"/>
<circle cx="295.3" cy="394.2" r="2.8" fill="#f6d6f6" stroke="#a080a0" stroke-width="0.7"/>
<circle cx="299.5" cy="411.2" r="2.8" fill="#f6d6f6" stroke="#a080a0" stroke-width="0.7"/>
<circle cx="162.8" cy="419.0" r="2.8" fill="#f6d6f6" stroke="#a080a0" stroke-width="0.7"/>
<circle cx="165.2" cy="435.8" r="2.8" fill="#f6d6f6" stroke="#a080a0" stroke-width="0.7"/>
<circle cx="260.8" cy="426.2" r="3.0" fill="#f6d6f6" stroke="#a080a0" stroke-width="0.7"/>
<circle cx="283.1" cy="430.0" r="2.8" fill="#f6d6f6" stroke="#a080a0" stroke-width="0.7"/>
<circle cx="287.3" cy="443.5" r="2.8" fill="#f6d6f6" stroke="#a080a0" stroke-width="0.7"/>
<circle cx="207.2" cy="390.9" r="4.6" fill="#f21818" stroke="#6a0000" stroke-width="0.7"/>
<circle cx="206.1" cy="385.5" r="5.0" fill="#ececec" stroke="#6e6e6e" stroke-width="0.7"/>
<circle cx="292.5" cy="366.4" r="5.2" fill="#fcd6d6" stroke="#a87878" stroke-width="0.7"/>
<circle cx="185.0" cy="400.7" r="5.0" fill="#ececec" stroke="#6e6e6e" stroke-width="0.7"/>
<circle cx="278.0" cy="382.7" r="5.0" fill="#ececec" stroke="#6e6e6e" stroke-width="0.7"/>
<circle cx="288.3" cy="401.9" r="5.0" fill="#ececec" stroke="#6e6e6e" stroke-width="0.7"/>
<circle cx="172.9" cy="429.5" r="5.0" fill="#ececec" stroke="#6e6e6e" stroke-width="0.7"/>
<circle cx="182.2" cy="447.5" r="5.0" fill="#ececec" stroke="#6e6e6e" stroke-width="0.7"/>
<circle cx="276.1" cy="434.1" r="5.0" fill="#ececec" stroke="#6e6e6e" stroke-width="0.7"/>
<circle cx="168.7" cy="461.5" r="5.2" fill="#fcd6d6" stroke="#a87878" stroke-width="0.7"/>
<circle cx="224.7" cy="388.6" r="4.6" fill="#f21818" stroke="#6a0000" stroke-width="0.7"/>
<circle cx="258.6" cy="385.1" r="4.6" fill="#f21818" stroke="#6a0000" stroke-width="0.7"/>
<circle cx="192.7" cy="417.1" r="4.6" fill="#f21818" stroke="#6a0000" stroke-width="0.7"/>
<circle cx="268.7" cy="415.2" r="4.6" fill="#f21818" stroke="#6a0000" stroke-width="0.7"/>
<circle cx="203.3" cy="444.0" r="4.6" fill="#f21818" stroke="#6a0000" stroke-width="0.7"/>
<line x1="231.7" y1="352.4" x2="231.7" y2="486" stroke="#1c1c1c" stroke-width="4.3"/><path d="M227.6 352.9 L231.7 347.9 L235.8 352.9Z" fill="#1c1c1c"/>
<circle cx="249.4" cy="434.1" r="5.4" fill="#ececec" stroke="#6e6e6e" stroke-width="0.7"/>
<line x1="231.8" y1="416.6" x2="233.9" y2="431.1" stroke="#7a18d8" stroke-width="2.8"/><line x1="233.9" y1="431.1" x2="236.1" y2="445.6" stroke="#c01010" stroke-width="2.8"/>
<line x1="231.8" y1="416.6" x2="245.2" y2="429.6" stroke="#7a18d8" stroke-width="2.8"/><line x1="245.2" y1="429.6" x2="258.6" y2="442.5" stroke="#c01010" stroke-width="2.8"/>
<circle cx="231.8" cy="416.6" r="12.6" fill="#9020f0" stroke="#3a0860" stroke-width="0.7"/>
<circle cx="258.6" cy="442.5" r="5.0" fill="#f21818" stroke="#6a0000" stroke-width="0.7"/>
<circle cx="236.1" cy="445.6" r="4.8" fill="#f21818" stroke="#6a0000" stroke-width="0.7"/>
<line x1="236.1" y1="445.6" x2="245.3" y2="447.8" stroke="#d01818" stroke-width="2.4"/><line x1="245.3" y1="447.8" x2="254.6" y2="450.0" stroke="#a8a8a8" stroke-width="2.4"/>
<circle cx="257.7" cy="466.3" r="5.3" fill="#fcd6d6" stroke="#a87878" stroke-width="0.7"/>
<circle cx="271.4" cy="466.3" r="5.3" fill="#fcd6d6" stroke="#a87878" stroke-width="0.7"/>
<line x1="254.6" y1="450.0" x2="256.1" y2="458.1" stroke="#a8a8a8" stroke-width="2.4"/><line x1="256.1" y1="458.1" x2="257.7" y2="466.3" stroke="#d8b0b0" stroke-width="2.4"/>
<line x1="262.6" y1="450.0" x2="267.0" y2="458.1" stroke="#a8a8a8" stroke-width="2.4"/><line x1="267.0" y1="458.1" x2="271.4" y2="466.3" stroke="#d8b0b0" stroke-width="2.4"/>
<line x1="262.6" y1="450.0" x2="276.1" y2="434.1" stroke="#a8a8a8" stroke-width="2.4"/>
<circle cx="262.6" cy="450.0" r="5.4" fill="#ececec" stroke="#6e6e6e" stroke-width="0.7"/>
<circle cx="254.6" cy="450.0" r="5.4" fill="#ececec" stroke="#6e6e6e" stroke-width="0.7"/>
<line x1="201.5" y1="525.6" x2="201.8" y2="531.9" stroke="#d8b8b8" stroke-width="2.2"/><line x1="201.8" y1="531.9" x2="202.1" y2="538.1" stroke="#a8a8a8" stroke-width="2.2"/>
<line x1="202.1" y1="538.1" x2="208.8" y2="543.1" stroke="#a8a8a8" stroke-width="2.2"/><line x1="208.8" y1="543.1" x2="215.6" y2="548.1" stroke="#a0a8d8" stroke-width="2.2"/>
<line x1="202.1" y1="538.1" x2="189.8" y2="549.5" stroke="#a8a8a8" stroke-width="2.2"/>
<line x1="189.8" y1="549.5" x2="184.7" y2="548.0" stroke="#a8a8a8" stroke-width="2.2"/><line x1="184.7" y1="548.0" x2="179.5" y2="546.6" stroke="#d8b8b8" stroke-width="2.2"/>
<line x1="189.8" y1="549.5" x2="190.5" y2="569.4" stroke="#a8a8a8" stroke-width="2.2"/>
<line x1="190.5" y1="569.4" x2="197.1" y2="567.4" stroke="#a8a8a8" stroke-width="2.2"/>
<line x1="197.1" y1="567.4" x2="204.4" y2="566.5" stroke="#a8a8a8" stroke-width="2.2"/><line x1="204.4" y1="566.5" x2="211.8" y2="565.6" stroke="#1a1ac8" stroke-width="2.2"/>
<line x1="215.6" y1="548.1" x2="213.7" y2="556.9" stroke="#a0a8d8" stroke-width="2.2"/><line x1="213.7" y1="556.9" x2="211.8" y2="565.6" stroke="#1a1ac8" stroke-width="2.2"/>
<line x1="190.5" y1="569.4" x2="173.6" y2="567.1" stroke="#a8a8a8" stroke-width="2.2"/>
<line x1="173.6" y1="567.1" x2="171.6" y2="561.2" stroke="#a8a8a8" stroke-width="2.2"/><line x1="171.6" y1="561.2" x2="169.7" y2="555.4" stroke="#d8b8b8" stroke-width="2.2"/>
<line x1="173.6" y1="567.1" x2="164.1" y2="581.8" stroke="#a8a8a8" stroke-width="2.2"/>
<line x1="164.1" y1="581.8" x2="158.6" y2="581.1" stroke="#a8a8a8" stroke-width="2.2"/><line x1="158.6" y1="581.1" x2="153.1" y2="580.4" stroke="#d8b8b8" stroke-width="2.2"/>
<line x1="164.1" y1="581.8" x2="165.2" y2="578.5" stroke="#a8a8a8" stroke-width="2.2"/><line x1="165.2" y1="578.5" x2="166.3" y2="575.2" stroke="#d8b8b8" stroke-width="2.2"/>
<line x1="164.1" y1="581.8" x2="172.1" y2="585.5" stroke="#a8a8a8" stroke-width="2.2"/>
<line x1="172.1" y1="585.5" x2="189.0" y2="584.0" stroke="#a8a8a8" stroke-width="2.2"/>
<line x1="189.0" y1="584.0" x2="193.6" y2="584.8" stroke="#a8a8a8" stroke-width="2.2"/><line x1="193.6" y1="584.8" x2="198.1" y2="585.6" stroke="#1a1ac8" stroke-width="2.2"/>
<line x1="190.5" y1="569.4" x2="189.0" y2="584.0" stroke="#a8a8a8" stroke-width="2.2"/>
<line x1="197.1" y1="559.1" x2="197.1" y2="563.2" stroke="#d8b8b8" stroke-width="2.2"/><line x1="197.1" y1="563.2" x2="197.1" y2="567.4" stroke="#a8a8a8" stroke-width="2.2"/>
<line x1="173.6" y1="567.1" x2="172.1" y2="585.5" stroke="#a8a8a8" stroke-width="2.2"/>
<line x1="198.1" y1="585.6" x2="198.1" y2="598.0" stroke="#1a1ac8" stroke-width="2.2"/>
<line x1="201.5" y1="658.0" x2="201.8" y2="651.7" stroke="#d8b8b8" stroke-width="2.2"/><line x1="201.8" y1="651.7" x2="202.1" y2="645.5" stroke="#a8a8a8" stroke-width="2.2"/>
<line x1="202.1" y1="645.5" x2="208.8" y2="640.5" stroke="#a8a8a8" stroke-width="2.2"/><line x1="208.8" y1="640.5" x2="215.6" y2="635.5" stroke="#a0a8d8" stroke-width="2.2"/>
<line x1="202.1" y1="645.5" x2="189.8" y2="634.1" stroke="#a8a8a8" stroke-width="2.2"/>
<line x1="189.8" y1="634.1" x2="184.7" y2="635.5" stroke="#a8a8a8" stroke-width="2.2"/><line x1="184.7" y1="635.5" x2="179.5" y2="637.0" stroke="#d8b8b8" stroke-width="2.2"/>
<line x1="189.8" y1="634.1" x2="190.5" y2="614.2" stroke="#a8a8a8" stroke-width="2.2"/>
<line x1="190.5" y1="614.2" x2="197.1" y2="616.2" stroke="#a8a8a8" stroke-width="2.2"/>
<line x1="197.1" y1="616.2" x2="204.4" y2="617.1" stroke="#a8a8a8" stroke-width="2.2"/><line x1="204.4" y1="617.1" x2="211.8" y2="618.0" stroke="#1a1ac8" stroke-width="2.2"/>
<line x1="215.6" y1="635.5" x2="213.7" y2="626.7" stroke="#a0a8d8" stroke-width="2.2"/><line x1="213.7" y1="626.7" x2="211.8" y2="618.0" stroke="#1a1ac8" stroke-width="2.2"/>
<line x1="190.5" y1="614.2" x2="173.6" y2="616.5" stroke="#a8a8a8" stroke-width="2.2"/>
<line x1="173.6" y1="616.5" x2="171.6" y2="622.3" stroke="#a8a8a8" stroke-width="2.2"/><line x1="171.6" y1="622.3" x2="169.7" y2="628.2" stroke="#d8b8b8" stroke-width="2.2"/>
<line x1="173.6" y1="616.5" x2="164.1" y2="601.8" stroke="#a8a8a8" stroke-width="2.2"/>
<line x1="164.1" y1="601.8" x2="158.6" y2="602.5" stroke="#a8a8a8" stroke-width="2.2"/><line x1="158.6" y1="602.5" x2="153.1" y2="603.2" stroke="#d8b8b8" stroke-width="2.2"/>
<line x1="164.1" y1="601.8" x2="165.2" y2="605.1" stroke="#a8a8a8" stroke-width="2.2"/><line x1="165.2" y1="605.1" x2="166.3" y2="608.4" stroke="#d8b8b8" stroke-width="2.2"/>
<line x1="164.1" y1="601.8" x2="172.1" y2="598.1" stroke="#a8a8a8" stroke-width="2.2"/>
<line x1="172.1" y1="598.1" x2="189.0" y2="599.6" stroke="#a8a8a8" stroke-width="2.2"/>
<line x1="189.0" y1="599.6" x2="193.6" y2="598.8" stroke="#a8a8a8" stroke-width="2.2"/><line x1="193.6" y1="598.8" x2="198.1" y2="598.0" stroke="#1a1ac8" stroke-width="2.2"/>
<line x1="190.5" y1="614.2" x2="189.0" y2="599.6" stroke="#a8a8a8" stroke-width="2.2"/>
<line x1="197.1" y1="624.5" x2="197.1" y2="620.3" stroke="#d8b8b8" stroke-width="2.2"/><line x1="197.1" y1="620.3" x2="197.1" y2="616.2" stroke="#a8a8a8" stroke-width="2.2"/>
<line x1="173.6" y1="616.5" x2="172.1" y2="598.1" stroke="#a8a8a8" stroke-width="2.2"/>
<line x1="198.1" y1="598.0" x2="198.1" y2="585.6" stroke="#1a1ac8" stroke-width="2.2"/>
<line x1="261.7" y1="525.6" x2="261.4" y2="531.9" stroke="#d8b8b8" stroke-width="2.2"/><line x1="261.4" y1="531.9" x2="261.1" y2="538.1" stroke="#a8a8a8" stroke-width="2.2"/>
<line x1="261.1" y1="538.1" x2="254.4" y2="543.1" stroke="#a8a8a8" stroke-width="2.2"/><line x1="254.4" y1="543.1" x2="247.6" y2="548.1" stroke="#a0a8d8" stroke-width="2.2"/>
<line x1="261.1" y1="538.1" x2="273.4" y2="549.5" stroke="#a8a8a8" stroke-width="2.2"/>
<line x1="273.4" y1="549.5" x2="278.5" y2="548.0" stroke="#a8a8a8" stroke-width="2.2"/><line x1="278.5" y1="548.0" x2="283.7" y2="546.6" stroke="#d8b8b8" stroke-width="2.2"/>
<line x1="273.4" y1="549.5" x2="272.7" y2="569.4" stroke="#a8a8a8" stroke-width="2.2"/>
<line x1="272.7" y1="569.4" x2="266.1" y2="567.4" stroke="#a8a8a8" stroke-width="2.2"/>
<line x1="266.1" y1="567.4" x2="258.8" y2="566.5" stroke="#a8a8a8" stroke-width="2.2"/><line x1="258.8" y1="566.5" x2="251.4" y2="565.6" stroke="#1a1ac8" stroke-width="2.2"/>
<line x1="247.6" y1="548.1" x2="249.5" y2="556.9" stroke="#a0a8d8" stroke-width="2.2"/><line x1="249.5" y1="556.9" x2="251.4" y2="565.6" stroke="#1a1ac8" stroke-width="2.2"/>
<line x1="272.7" y1="569.4" x2="289.6" y2="567.1" stroke="#a8a8a8" stroke-width="2.2"/>
<line x1="289.6" y1="567.1" x2="291.6" y2="561.2" stroke="#a8a8a8" stroke-width="2.2"/><line x1="291.6" y1="561.2" x2="293.5" y2="555.4" stroke="#d8b8b8" stroke-width="2.2"/>
<line x1="289.6" y1="567.1" x2="299.1" y2="581.8" stroke="#a8a8a8" stroke-width="2.2"/>
<line x1="299.1" y1="581.8" x2="304.6" y2="581.1" stroke="#a8a8a8" stroke-width="2.2"/><line x1="304.6" y1="581.1" x2="310.1" y2="580.4" stroke="#d8b8b8" stroke-width="2.2"/>
<line x1="299.1" y1="581.8" x2="298.0" y2="578.5" stroke="#a8a8a8" stroke-width="2.2"/><line x1="298.0" y1="578.5" x2="296.9" y2="575.2" stroke="#d8b8b8" stroke-width="2.2"/>
<line x1="299.1" y1="581.8" x2="291.1" y2="585.5" stroke="#a8a8a8" stroke-width="2.2"/>
<line x1="291.1" y1="585.5" x2="274.2" y2="584.0" stroke="#a8a8a8" stroke-width="2.2"/>
<line x1="274.2" y1="584.0" x2="269.6" y2="584.8" stroke="#a8a8a8" stroke-width="2.2"/><line x1="269.6" y1="584.8" x2="265.1" y2="585.6" stroke="#1a1ac8" stroke-width="2.2"/>
<line x1="272.7" y1="569.4" x2="274.2" y2="584.0" stroke="#a8a8a8" stroke-width="2.2"/>
<line x1="266.1" y1="559.1" x2="266.1" y2="563.2" stroke="#d8b8b8" stroke-width="2.2"/><line x1="266.1" y1="563.2" x2="266.1" y2="567.4" stroke="#a8a8a8" stroke-width="2.2"/>
<line x1="289.6" y1="567.1" x2="291.1" y2="585.5" stroke="#a8a8a8" stroke-width="2.2"/>
<line x1="265.1" y1="585.6" x2="265.1" y2="598.0" stroke="#1a1ac8" stroke-width="2.2"/>
<line x1="261.7" y1="658.0" x2="261.4" y2="651.7" stroke="#d8b8b8" stroke-width="2.2"/><line x1="261.4" y1="651.7" x2="261.1" y2="645.5" stroke="#a8a8a8" stroke-width="2.2"/>
<line x1="261.1" y1="645.5" x2="254.4" y2="640.5" stroke="#a8a8a8" stroke-width="2.2"/><line x1="254.4" y1="640.5" x2="247.6" y2="635.5" stroke="#a0a8d8" stroke-width="2.2"/>
<line x1="261.1" y1="645.5" x2="273.4" y2="634.1" stroke="#a8a8a8" stroke-width="2.2"/>
<line x1="273.4" y1="634.1" x2="278.5" y2="635.5" stroke="#a8a8a8" stroke-width="2.2"/><line x1="278.5" y1="635.5" x2="283.7" y2="637.0" stroke="#d8b8b8" stroke-width="2.2"/>
<line x1="273.4" y1="634.1" x2="272.7" y2="614.2" stroke="#a8a8a8" stroke-width="2.2"/>
<line x1="272.7" y1="614.2" x2="266.1" y2="616.2" stroke="#a8a8a8" stroke-width="2.2"/>
<line x1="266.1" y1="616.2" x2="258.8" y2="617.1" stroke="#a8a8a8" stroke-width="2.2"/><line x1="258.8" y1="617.1" x2="251.4" y2="618.0" stroke="#1a1ac8" stroke-width="2.2"/>
<line x1="247.6" y1="635.5" x2="249.5" y2="626.7" stroke="#a0a8d8" stroke-width="2.2"/><line x1="249.5" y1="626.7" x2="251.4" y2="618.0" stroke="#1a1ac8" stroke-width="2.2"/>
<line x1="272.7" y1="614.2" x2="289.6" y2="616.5" stroke="#a8a8a8" stroke-width="2.2"/>
<line x1="289.6" y1="616.5" x2="291.6" y2="622.3" stroke="#a8a8a8" stroke-width="2.2"/><line x1="291.6" y1="622.3" x2="293.5" y2="628.2" stroke="#d8b8b8" stroke-width="2.2"/>
<line x1="289.6" y1="616.5" x2="299.1" y2="601.8" stroke="#a8a8a8" stroke-width="2.2"/>
<line x1="299.1" y1="601.8" x2="304.6" y2="602.5" stroke="#a8a8a8" stroke-width="2.2"/><line x1="304.6" y1="602.5" x2="310.1" y2="603.2" stroke="#d8b8b8" stroke-width="2.2"/>
<line x1="299.1" y1="601.8" x2="298.0" y2="605.1" stroke="#a8a8a8" stroke-width="2.2"/><line x1="298.0" y1="605.1" x2="296.9" y2="608.4" stroke="#d8b8b8" stroke-width="2.2"/>
<line x1="299.1" y1="601.8" x2="291.1" y2="598.1" stroke="#a8a8a8" stroke-width="2.2"/>
<line x1="291.1" y1="598.1" x2="274.2" y2="599.6" stroke="#a8a8a8" stroke-width="2.2"/>
<line x1="274.2" y1="599.6" x2="269.6" y2="598.8" stroke="#a8a8a8" stroke-width="2.2"/><line x1="269.6" y1="598.8" x2="265.1" y2="598.0" stroke="#1a1ac8" stroke-width="2.2"/>
<line x1="272.7" y1="614.2" x2="274.2" y2="599.6" stroke="#a8a8a8" stroke-width="2.2"/>
<line x1="266.1" y1="624.5" x2="266.1" y2="620.3" stroke="#d8b8b8" stroke-width="2.2"/><line x1="266.1" y1="620.3" x2="266.1" y2="616.2" stroke="#a8a8a8" stroke-width="2.2"/>
<line x1="289.6" y1="616.5" x2="291.1" y2="598.1" stroke="#a8a8a8" stroke-width="2.2"/>
<line x1="265.1" y1="598.0" x2="265.1" y2="585.6" stroke="#1a1ac8" stroke-width="2.2"/>
<line x1="215.6" y1="548.1" x2="223.6" y2="545.3" stroke="#a0a8d8" stroke-width="2.0"/><line x1="223.6" y1="545.3" x2="231.6" y2="542.5" stroke="#a8d0a8" stroke-width="2.0"/>
<line x1="215.6" y1="635.5" x2="223.6" y2="638.3" stroke="#a0a8d8" stroke-width="2.0"/><line x1="223.6" y1="638.3" x2="231.6" y2="641.1" stroke="#a8d0a8" stroke-width="2.0"/>
<line x1="247.6" y1="548.1" x2="239.6" y2="545.3" stroke="#a0a8d8" stroke-width="2.0"/><line x1="239.6" y1="545.3" x2="231.6" y2="542.5" stroke="#a8d0a8" stroke-width="2.0"/>
<line x1="247.6" y1="635.5" x2="239.6" y2="638.3" stroke="#a0a8d8" stroke-width="2.0"/><line x1="239.6" y1="638.3" x2="231.6" y2="641.1" stroke="#a8d0a8" stroke-width="2.0"/>
<line x1="231.6" y1="530.0" x2="231.6" y2="654.0" stroke="#a8a8a8" stroke-width="2.4"/>
<circle cx="201.5" cy="525.6" r="2.8" fill="#fcdada" stroke="#a88080" stroke-width="0.7"/>
<circle cx="202.1" cy="538.1" r="4.7" fill="#ececec" stroke="#6e6e6e" stroke-width="0.7"/>
<circle cx="215.6" cy="548.1" r="4.7" fill="#c4c8f0" stroke="#6a6a8a" stroke-width="0.7"/>
<circle cx="179.5" cy="546.6" r="2.8" fill="#fcdada" stroke="#a88080" stroke-width="0.7"/>
<circle cx="189.8" cy="549.5" r="4.8" fill="#ececec" stroke="#6e6e6e" stroke-width="0.7"/>
<circle cx="169.7" cy="555.4" r="2.8" fill="#fcdada" stroke="#a88080" stroke-width="0.7"/>
<circle cx="197.1" cy="559.1" r="2.8" fill="#fcdada" stroke="#a88080" stroke-width="0.7"/>
<circle cx="173.6" cy="567.1" r="4.8" fill="#ececec" stroke="#6e6e6e" stroke-width="0.7"/>
<circle cx="190.5" cy="569.4" r="4.8" fill="#ececec" stroke="#6e6e6e" stroke-width="0.7"/>
<circle cx="197.1" cy="567.4" r="4.8" fill="#ececec" stroke="#6e6e6e" stroke-width="0.7"/>
<circle cx="211.8" cy="565.6" r="4.6" fill="#1e1ee8" stroke="#000050" stroke-width="0.7"/>
<circle cx="166.3" cy="575.2" r="2.8" fill="#fcdada" stroke="#a88080" stroke-width="0.7"/>
<circle cx="153.1" cy="580.4" r="2.8" fill="#fcdada" stroke="#a88080" stroke-width="0.7"/>
<circle cx="164.1" cy="581.8" r="4.8" fill="#ececec" stroke="#6e6e6e" stroke-width="0.7"/>
<circle cx="172.1" cy="585.5" r="4.8" fill="#ececec" stroke="#6e6e6e" stroke-width="0.7"/>
<circle cx="189.0" cy="584.0" r="4.8" fill="#ececec" stroke="#6e6e6e" stroke-width="0.7"/>
<circle cx="198.1" cy="585.6" r="4.6" fill="#1e1ee8" stroke="#000050" stroke-width="0.7"/>
<circle cx="201.5" cy="658.0" r="2.8" fill="#fcdada" stroke="#a88080" stroke-width="0.7"/>
<circle cx="202.1" cy="645.5" r="4.7" fill="#ececec" stroke="#6e6e6e" stroke-width="0.7"/>
<circle cx="215.6" cy="635.5" r="4.7" fill="#c4c8f0" stroke="#6a6a8a" stroke-width="0.7"/>
<circle cx="179.5" cy="637.0" r="2.8" fill="#fcdada" stroke="#a88080" stroke-width="0.7"/>
<circle cx="189.8" cy="634.1" r="4.8" fill="#ececec" stroke="#6e6e6e" stroke-width="0.7"/>
<circle cx="169.7" cy="628.2" r="2.8" fill="#fcdada" stroke="#a88080" stroke-width="0.7"/>
<circle cx="197.1" cy="624.5" r="2.8" fill="#fcdada" stroke="#a88080" stroke-width="0.7"/>
<circle cx="173.6" cy="616.5" r="4.8" fill="#ececec" stroke="#6e6e6e" stroke-width="0.7"/>
<circle cx="190.5" cy="614.2" r="4.8" fill="#ececec" stroke="#6e6e6e" stroke-width="0.7"/>
<circle cx="197.1" cy="616.2" r="4.8" fill="#ececec" stroke="#6e6e6e" stroke-width="0.7"/>
<circle cx="211.8" cy="618.0" r="4.6" fill="#1e1ee8" stroke="#000050" stroke-width="0.7"/>
<circle cx="166.3" cy="608.4" r="2.8" fill="#fcdada" stroke="#a88080" stroke-width="0.7"/>
<circle cx="153.1" cy="603.2" r="2.8" fill="#fcdada" stroke="#a88080" stroke-width="0.7"/>
<circle cx="164.1" cy="601.8" r="4.8" fill="#ececec" stroke="#6e6e6e" stroke-width="0.7"/>
<circle cx="172.1" cy="598.1" r="4.8" fill="#ececec" stroke="#6e6e6e" stroke-width="0.7"/>
<circle cx="189.0" cy="599.6" r="4.8" fill="#ececec" stroke="#6e6e6e" stroke-width="0.7"/>
<circle cx="198.1" cy="598.0" r="4.6" fill="#1e1ee8" stroke="#000050" stroke-width="0.7"/>
<circle cx="261.7" cy="525.6" r="2.8" fill="#fcdada" stroke="#a88080" stroke-width="0.7"/>
<circle cx="261.1" cy="538.1" r="4.7" fill="#ececec" stroke="#6e6e6e" stroke-width="0.7"/>
<circle cx="247.6" cy="548.1" r="4.7" fill="#c4c8f0" stroke="#6a6a8a" stroke-width="0.7"/>
<circle cx="283.7" cy="546.6" r="2.8" fill="#fcdada" stroke="#a88080" stroke-width="0.7"/>
<circle cx="273.4" cy="549.5" r="4.8" fill="#ececec" stroke="#6e6e6e" stroke-width="0.7"/>
<circle cx="293.5" cy="555.4" r="2.8" fill="#fcdada" stroke="#a88080" stroke-width="0.7"/>
<circle cx="266.1" cy="559.1" r="2.8" fill="#fcdada" stroke="#a88080" stroke-width="0.7"/>
<circle cx="289.6" cy="567.1" r="4.8" fill="#ececec" stroke="#6e6e6e" stroke-width="0.7"/>
<circle cx="272.7" cy="569.4" r="4.8" fill="#ececec" stroke="#6e6e6e" stroke-width="0.7"/>
<circle cx="266.1" cy="567.4" r="4.8" fill="#ececec" stroke="#6e6e6e" stroke-width="0.7"/>
<circle cx="251.4" cy="565.6" r="4.6" fill="#1e1ee8" stroke="#000050" stroke-width="0.7"/>
<circle cx="296.9" cy="575.2" r="2.8" fill="#fcdada" stroke="#a88080" stroke-width="0.7"/>
<circle cx="310.1" cy="580.4" r="2.8" fill="#fcdada" stroke="#a88080" stroke-width="0.7"/>
<circle cx="299.1" cy="581.8" r="4.8" fill="#ececec" stroke="#6e6e6e" stroke-width="0.7"/>
<circle cx="291.1" cy="585.5" r="4.8" fill="#ececec" stroke="#6e6e6e" stroke-width="0.7"/>
<circle cx="274.2" cy="584.0" r="4.8" fill="#ececec" stroke="#6e6e6e" stroke-width="0.7"/>
<circle cx="265.1" cy="585.6" r="4.6" fill="#1e1ee8" stroke="#000050" stroke-width="0.7"/>
<circle cx="261.7" cy="658.0" r="2.8" fill="#fcdada" stroke="#a88080" stroke-width="0.7"/>
<circle cx="261.1" cy="645.5" r="4.7" fill="#ececec" stroke="#6e6e6e" stroke-width="0.7"/>
<circle cx="247.6" cy="635.5" r="4.7" fill="#c4c8f0" stroke="#6a6a8a" stroke-width="0.7"/>
<circle cx="283.7" cy="637.0" r="2.8" fill="#fcdada" stroke="#a88080" stroke-width="0.7"/>
<circle cx="273.4" cy="634.1" r="4.8" fill="#ececec" stroke="#6e6e6e" stroke-width="0.7"/>
<circle cx="293.5" cy="628.2" r="2.8" fill="#fcdada" stroke="#a88080" stroke-width="0.7"/>
<circle cx="266.1" cy="624.5" r="2.8" fill="#fcdada" stroke="#a88080" stroke-width="0.7"/>
<circle cx="289.6" cy="616.5" r="4.8" fill="#ececec" stroke="#6e6e6e" stroke-width="0.7"/>
<circle cx="272.7" cy="614.2" r="4.8" fill="#ececec" stroke="#6e6e6e" stroke-width="0.7"/>
<circle cx="266.1" cy="616.2" r="4.8" fill="#ececec" stroke="#6e6e6e" stroke-width="0.7"/>
<circle cx="251.4" cy="618.0" r="4.6" fill="#1e1ee8" stroke="#000050" stroke-width="0.7"/>
<circle cx="296.9" cy="608.4" r="2.8" fill="#fcdada" stroke="#a88080" stroke-width="0.7"/>
<circle cx="310.1" cy="603.2" r="2.8" fill="#fcdada" stroke="#a88080" stroke-width="0.7"/>
<circle cx="299.1" cy="601.8" r="4.8" fill="#ececec" stroke="#6e6e6e" stroke-width="0.7"/>
<circle cx="291.1" cy="598.1" r="4.8" fill="#ececec" stroke="#6e6e6e" stroke-width="0.7"/>
<circle cx="274.2" cy="599.6" r="4.8" fill="#ececec" stroke="#6e6e6e" stroke-width="0.7"/>
<circle cx="265.1" cy="598.0" r="4.6" fill="#1e1ee8" stroke="#000050" stroke-width="0.7"/>
<line x1="231.6" y1="516.8" x2="231.6" y2="669.5" stroke="#1c1c1c" stroke-width="2.0"/><path d="M229.6 517.3 L231.6 512.3 L233.6 517.3Z" fill="#1c1c1c"/>
<circle cx="231.6" cy="526.0" r="2.8" fill="#fcdada" stroke="#a88080" stroke-width="0.7"/>
<circle cx="231.6" cy="538.1" r="4.6" fill="#ececec" stroke="#6e6e6e" stroke-width="0.7"/>
<circle cx="231.6" cy="547.2" r="2.6" fill="#fcdada" stroke="#a88080" stroke-width="0.7"/>
<circle cx="231.6" cy="549.3" r="4.4" fill="#ececec" stroke="#6e6e6e" stroke-width="0.7"/>
<circle cx="231.6" cy="556.2" r="2.4" fill="#fcdada" stroke="#a88080" stroke-width="0.7"/>
<circle cx="231.6" cy="563.0" r="4.2" fill="#1e1ee8" stroke="#000050" stroke-width="0.7"/>
<circle cx="231.6" cy="566.8" r="4.4" fill="#ececec" stroke="#6e6e6e" stroke-width="0.7"/>
<circle cx="231.6" cy="575.5" r="2.6" fill="#fcdada" stroke="#a88080" stroke-width="0.7"/>
<circle cx="231.6" cy="579.5" r="4.3" fill="#ececec" stroke="#6e6e6e" stroke-width="0.7"/>
<circle cx="231.6" cy="657.6" r="2.8" fill="#fcdada" stroke="#a88080" stroke-width="0.7"/>
<circle cx="231.6" cy="645.5" r="4.6" fill="#d4f4d4" stroke="#6a8a6a" stroke-width="0.7"/>
<circle cx="231.6" cy="636.4" r="2.6" fill="#fcdada" stroke="#a88080" stroke-width="0.7"/>
<circle cx="231.6" cy="634.3" r="4.4" fill="#ececec" stroke="#6e6e6e" stroke-width="0.7"/>
<circle cx="231.6" cy="627.4" r="2.4" fill="#fcdada" stroke="#a88080" stroke-width="0.7"/>
<circle cx="231.6" cy="620.6" r="4.2" fill="#1e1ee8" stroke="#000050" stroke-width="0.7"/>
<circle cx="231.6" cy="616.8" r="4.4" fill="#ececec" stroke="#6e6e6e" stroke-width="0.7"/>
<circle cx="231.6" cy="608.1" r="2.6" fill="#fcdada" stroke="#a88080" stroke-width="0.7"/>
<circle cx="231.6" cy="604.1" r="4.3" fill="#ececec" stroke="#6e6e6e" stroke-width="0.7"/>
<circle cx="231.6" cy="591.8" r="9.4" fill="#1ef01e" stroke="#0a5a0a" stroke-width="0.7"/>
<circle cx="231.6" cy="585.5" r="4.4" fill="#ececec" stroke="#6e6e6e" stroke-width="0.7"/>
<circle cx="231.6" cy="597.6" r="4.2" fill="#1e1ee8" stroke="#000050" stroke-width="0.7"/>
<line x1="231.6" y1="634" x2="231.6" y2="669.5" stroke="#1c1c1c" stroke-width="2.2"/>
<line x1="363.4" y1="75.9" x2="356.0" y2="55.4" stroke="#2a40c0" stroke-width="2.2"/>
<line x1="363.4" y1="75.9" x2="344.6" y2="77.3" stroke="#2a40c0" stroke-width="2.2"/>
<line x1="363.4" y1="75.9" x2="362.7" y2="98.3" stroke="#2a40c0" stroke-width="2.2"/>
<line x1="363.4" y1="75.9" x2="372.1" y2="74.7" stroke="#2a40c0" stroke-width="2.2"/><line x1="372.1" y1="74.7" x2="380.9" y2="73.4" stroke="#d01818" stroke-width="2.2"/>
<line x1="380.9" y1="73.4" x2="390.2" y2="74.3" stroke="#d01818" stroke-width="2.2"/><line x1="390.2" y1="74.3" x2="399.5" y2="75.2" stroke="#5ab04a" stroke-width="2.2"/>
<line x1="399.5" y1="75.2" x2="383.2" y2="53.7" stroke="#3a50d0" stroke-width="2.2"/>
<line x1="399.5" y1="75.2" x2="388.4" y2="96.6" stroke="#3a50d0" stroke-width="2.2"/>
<line x1="399.5" y1="75.2" x2="423.4" y2="71.3" stroke="#3a50d0" stroke-width="2.2"/>
<line x1="399.5" y1="75.2" x2="411.9" y2="75.7" stroke="#5ab04a" stroke-width="2.2"/><line x1="411.9" y1="75.7" x2="424.4" y2="76.2" stroke="#d01818" stroke-width="2.2"/>
<line x1="440.3" y1="76.0" x2="455.0" y2="53.2" stroke="#2a40c0" stroke-width="2.2"/>
<line x1="440.3" y1="76.0" x2="457.3" y2="96.5" stroke="#2a40c0" stroke-width="2.2"/>
<line x1="440.3" y1="76.0" x2="432.1" y2="77.2" stroke="#2a40c0" stroke-width="2.2"/>
<line x1="432.1" y1="77.2" x2="424.4" y2="76.2" stroke="#2a40c0" stroke-width="2.2"/>
<line x1="399.5" y1="75.2" x2="399.9" y2="60.8" stroke="#5ab04a" stroke-width="2.2"/><line x1="399.9" y1="60.8" x2="400.3" y2="46.3" stroke="#d01818" stroke-width="2.2"/>
<line x1="399.5" y1="75.2" x2="398.4" y2="90.2" stroke="#5ab04a" stroke-width="2.2"/><line x1="398.4" y1="90.2" x2="397.2" y2="105.3" stroke="#d01818" stroke-width="2.2"/>
<circle cx="356.0" cy="55.4" r="5.4" fill="#2242f0" stroke="#10207a" stroke-width="0.7"/>
<circle cx="344.6" cy="77.3" r="5.4" fill="#2242f0" stroke="#10207a" stroke-width="0.7"/>
<circle cx="362.7" cy="98.3" r="5.4" fill="#2242f0" stroke="#10207a" stroke-width="0.7"/>
<circle cx="363.4" cy="75.9" r="5.4" fill="#2242f0" stroke="#10207a" stroke-width="0.7"/>
<circle cx="380.9" cy="73.4" r="3.3" fill="#f21818" stroke="#6a0000" stroke-width="0.7"/>
<circle cx="383.2" cy="53.7" r="5.4" fill="#5070f0" stroke="#30408a" stroke-width="0.7"/>
<circle cx="388.4" cy="96.6" r="5.4" fill="#5070f0" stroke="#30408a" stroke-width="0.7"/>
<circle cx="423.4" cy="71.3" r="5.3" fill="#5070f0" stroke="#30408a" stroke-width="0.7"/>
<line x1="399.8" y1="35.5" x2="399.8" y2="121" stroke="#1c1c1c" stroke-width="2.6"/><path d="M397.1 36.0 L399.8 30 L402.6 36.0Z" fill="#1c1c1c"/>
<circle cx="400.3" cy="46.3" r="3.3" fill="#f21818" stroke="#6a0000" stroke-width="0.7"/>
<circle cx="397.2" cy="105.3" r="3.3" fill="#f21818" stroke="#6a0000" stroke-width="0.7"/>
<circle cx="399.5" cy="75.2" r="8.8" fill="#66c456" stroke="#2a602a" stroke-width="0.7"/>
<circle cx="424.4" cy="76.2" r="3.2" fill="#f21818" stroke="#6a0000" stroke-width="0.7"/>
<circle cx="455.0" cy="53.2" r="5.4" fill="#2242f0" stroke="#10207a" stroke-width="0.7"/>
<circle cx="457.3" cy="96.5" r="5.4" fill="#2242f0" stroke="#10207a" stroke-width="0.7"/>
<circle cx="440.3" cy="76.0" r="5.4" fill="#2242f0" stroke="#10207a" stroke-width="0.7"/>
<circle cx="432.1" cy="77.2" r="5.4" fill="#2242f0" stroke="#10207a" stroke-width="0.7"/>
<line x1="526.8" y1="75.5" x2="521.2" y2="54.2" stroke="#2a40c0" stroke-width="2.2"/>
<line x1="526.8" y1="75.5" x2="508.4" y2="75.9" stroke="#2a40c0" stroke-width="2.2"/>
<line x1="526.8" y1="75.5" x2="522.4" y2="96.9" stroke="#2a40c0" stroke-width="2.2"/>
<line x1="526.8" y1="75.5" x2="535.4" y2="75.1" stroke="#2a40c0" stroke-width="2.2"/><line x1="535.4" y1="75.1" x2="544.0" y2="74.7" stroke="#d01818" stroke-width="2.2"/>
<line x1="544.0" y1="74.7" x2="553.1" y2="75.0" stroke="#d01818" stroke-width="2.2"/><line x1="553.1" y1="75.0" x2="562.2" y2="75.2" stroke="#30d0a0" stroke-width="2.2"/>
<line x1="562.2" y1="75.2" x2="550.4" y2="54.2" stroke="#3a50d0" stroke-width="2.2"/>
<line x1="562.2" y1="75.2" x2="549.6" y2="96.2" stroke="#3a50d0" stroke-width="2.2"/>
<line x1="562.2" y1="75.2" x2="587.2" y2="78.2" stroke="#3a50d0" stroke-width="2.2"/>
<line x1="562.2" y1="75.2" x2="573.4" y2="75.6" stroke="#30d0a0" stroke-width="2.2"/><line x1="573.4" y1="75.6" x2="584.6" y2="75.9" stroke="#d01818" stroke-width="2.2"/>
<line x1="599.9" y1="75.2" x2="615.5" y2="54.1" stroke="#2a40c0" stroke-width="2.2"/>
<line x1="599.9" y1="75.2" x2="615.5" y2="96.9" stroke="#2a40c0" stroke-width="2.2"/>
<line x1="599.9" y1="75.2" x2="590.7" y2="73.4" stroke="#2a40c0" stroke-width="2.2"/>
<line x1="590.7" y1="73.4" x2="584.6" y2="75.9" stroke="#2a40c0" stroke-width="2.2"/>
<line x1="562.2" y1="75.2" x2="562.5" y2="61.8" stroke="#30d0a0" stroke-width="2.2"/><line x1="562.5" y1="61.8" x2="562.7" y2="48.4" stroke="#d01818" stroke-width="2.2"/>
<line x1="562.2" y1="75.2" x2="562.7" y2="88.3" stroke="#30d0a0" stroke-width="2.2"/><line x1="562.7" y1="88.3" x2="563.2" y2="101.5" stroke="#d01818" stroke-width="2.2"/>
<circle cx="521.2" cy="54.2" r="5.4" fill="#2242f0" stroke="#10207a" stroke-width="0.7"/>
<circle cx="508.4" cy="75.9" r="5.4" fill="#2242f0" stroke="#10207a" stroke-width="0.7"/>
<circle cx="522.4" cy="96.9" r="5.4" fill="#2242f0" stroke="#10207a" stroke-width="0.7"/>
<circle cx="526.8" cy="75.5" r="5.4" fill="#2242f0" stroke="#10207a" stroke-width="0.7"/>
<circle cx="544.0" cy="74.7" r="3.3" fill="#f21818" stroke="#6a0000" stroke-width="0.7"/>
<circle cx="550.4" cy="54.2" r="5.4" fill="#5070f0" stroke="#30408a" stroke-width="0.7"/>
<circle cx="549.6" cy="96.2" r="5.4" fill="#5070f0" stroke="#30408a" stroke-width="0.7"/>
<circle cx="587.2" cy="78.2" r="5.3" fill="#5070f0" stroke="#30408a" stroke-width="0.7"/>
<line x1="562.5" y1="36.5" x2="562.5" y2="120.5" stroke="#1c1c1c" stroke-width="2.6"/><path d="M559.8 37.0 L562.5 31 L565.2 37.0Z" fill="#1c1c1c"/>
<circle cx="562.7" cy="48.4" r="3.3" fill="#f21818" stroke="#6a0000" stroke-width="0.7"/>
<circle cx="563.2" cy="101.5" r="3.3" fill="#f21818" stroke="#6a0000" stroke-width="0.7"/>
<circle cx="562.2" cy="75.2" r="8.4" fill="#40f0b8" stroke="#1a6a50" stroke-width="0.7"/>
<circle cx="584.6" cy="75.9" r="3.2" fill="#f21818" stroke="#6a0000" stroke-width="0.7"/>
<circle cx="615.5" cy="54.1" r="5.4" fill="#2242f0" stroke="#10207a" stroke-width="0.7"/>
<circle cx="615.5" cy="96.9" r="5.4" fill="#2242f0" stroke="#10207a" stroke-width="0.7"/>
<circle cx="599.9" cy="75.2" r="5.4" fill="#2242f0" stroke="#10207a" stroke-width="0.7"/>
<circle cx="590.7" cy="73.4" r="5.4" fill="#2242f0" stroke="#10207a" stroke-width="0.7"/>
<line x1="379.0" y1="353.2" x2="387.2" y2="360.2" stroke="#d8b0b0" stroke-width="2.8"/><line x1="387.2" y1="360.2" x2="395.4" y2="367.2" stroke="#a8a8a8" stroke-width="2.8"/>
<line x1="388.4" y1="352.0" x2="395.4" y2="359.6" stroke="#d8b0b0" stroke-width="2.8"/><line x1="395.4" y1="359.6" x2="402.4" y2="367.2" stroke="#a8a8a8" stroke-width="2.8"/>
<line x1="402.4" y1="367.2" x2="404.7" y2="363.5" stroke="#a8a8a8" stroke-width="2.8"/><line x1="404.7" y1="363.5" x2="407.0" y2="359.8" stroke="#d01818" stroke-width="2.8"/>
<line x1="402.4" y1="367.2" x2="414.3" y2="363.7" stroke="#a8a8a8" stroke-width="2.8"/><line x1="414.3" y1="363.7" x2="426.2" y2="360.2" stroke="#d01818" stroke-width="2.8"/>
<line x1="395.4" y1="367.2" x2="389.5" y2="395.3" stroke="#a8a8a8" stroke-width="2.8"/>
<line x1="402.4" y1="367.2" x2="407.0" y2="394.1" stroke="#a8a8a8" stroke-width="2.8"/>
<line x1="389.5" y1="395.3" x2="400.6" y2="405.0" stroke="#a8a8a8" stroke-width="2.8"/><line x1="400.6" y1="405.0" x2="411.7" y2="414.6" stroke="#1a1ac8" stroke-width="2.8"/>
<line x1="407.0" y1="394.1" x2="409.4" y2="404.4" stroke="#a8a8a8" stroke-width="2.8"/><line x1="409.4" y1="404.4" x2="411.7" y2="414.6" stroke="#1a1ac8" stroke-width="2.8"/>
<line x1="488.8" y1="366.0" x2="476.0" y2="363.4" stroke="#a8a8a8" stroke-width="2.8"/><line x1="476.0" y1="363.4" x2="463.1" y2="360.9" stroke="#d01818" stroke-width="2.8"/>
<line x1="488.8" y1="366.0" x2="485.9" y2="363.4" stroke="#a8a8a8" stroke-width="2.8"/><line x1="485.9" y1="363.4" x2="483.0" y2="360.9" stroke="#d01818" stroke-width="2.8"/>
<line x1="504.0" y1="353.2" x2="496.4" y2="359.6" stroke="#d8b0b0" stroke-width="2.8"/><line x1="496.4" y1="359.6" x2="488.8" y2="366.0" stroke="#a8a8a8" stroke-width="2.8"/>
<line x1="500.5" y1="348.5" x2="494.6" y2="357.2" stroke="#d8b0b0" stroke-width="2.8"/><line x1="494.6" y1="357.2" x2="488.8" y2="366.0" stroke="#a8a8a8" stroke-width="2.8"/>
<line x1="488.8" y1="366.0" x2="481.8" y2="395.3" stroke="#a8a8a8" stroke-width="2.8"/>
<line x1="488.8" y1="366.0" x2="500.0" y2="394.1" stroke="#a8a8a8" stroke-width="2.8"/>
<line x1="481.8" y1="395.3" x2="477.1" y2="405.2" stroke="#a8a8a8" stroke-width="2.8"/><line x1="477.1" y1="405.2" x2="472.5" y2="415.1" stroke="#1a1ac8" stroke-width="2.8"/>
<line x1="500.0" y1="394.1" x2="490.3" y2="404.1" stroke="#a8a8a8" stroke-width="2.8"/><line x1="490.3" y1="404.1" x2="480.6" y2="414.0" stroke="#1a1ac8" stroke-width="2.8"/>
<line x1="411.7" y1="414.6" x2="402.1" y2="420.7" stroke="#1a1ac8" stroke-width="2.8"/><line x1="402.1" y1="420.7" x2="392.6" y2="426.8" stroke="#a8a8a8" stroke-width="2.8"/>
<line x1="411.7" y1="414.6" x2="405.3" y2="425.4" stroke="#1a1ac8" stroke-width="2.8"/><line x1="405.3" y1="425.4" x2="398.9" y2="436.1" stroke="#a8a8a8" stroke-width="2.8"/>
<line x1="419.9" y1="414.0" x2="422.8" y2="419.4" stroke="#1a1ac8" stroke-width="2.8"/><line x1="422.8" y1="419.4" x2="425.7" y2="424.9" stroke="#a8a8a8" stroke-width="2.8"/>
<line x1="425.7" y1="424.9" x2="435.0" y2="437.3" stroke="#a8a8a8" stroke-width="2.8"/>
<line x1="435.0" y1="437.3" x2="455.0" y2="437.3" stroke="#a8a8a8" stroke-width="2.8"/>
<line x1="455.0" y1="437.3" x2="463.1" y2="425.6" stroke="#a8a8a8" stroke-width="2.8"/>
<line x1="463.1" y1="425.6" x2="467.8" y2="420.4" stroke="#a8a8a8" stroke-width="2.8"/><line x1="467.8" y1="420.4" x2="472.5" y2="415.1" stroke="#1a1ac8" stroke-width="2.8"/>
<line x1="472.5" y1="415.1" x2="482.4" y2="425.6" stroke="#1a1ac8" stroke-width="2.8"/><line x1="482.4" y1="425.6" x2="492.3" y2="436.1" stroke="#a8a8a8" stroke-width="2.8"/>
<line x1="480.6" y1="414.0" x2="488.8" y2="419.8" stroke="#1a1ac8" stroke-width="2.8"/><line x1="488.8" y1="419.8" x2="497.0" y2="425.6" stroke="#a8a8a8" stroke-width="2.8"/>
<line x1="392.6" y1="426.8" x2="398.9" y2="436.1" stroke="#a8a8a8" stroke-width="2.8"/>
<line x1="445.1" y1="383.6" x2="426.1" y2="371.7" stroke="#20b8b8" stroke-width="2.8"/><line x1="426.1" y1="371.7" x2="407.0" y2="359.8" stroke="#a81818" stroke-width="2.8"/>
<line x1="445.1" y1="383.6" x2="435.6" y2="371.9" stroke="#20b8b8" stroke-width="2.8"/><line x1="435.6" y1="371.9" x2="426.2" y2="360.2" stroke="#a81818" stroke-width="2.8"/>
<line x1="445.1" y1="383.6" x2="454.1" y2="372.2" stroke="#20b8b8" stroke-width="2.8"/><line x1="454.1" y1="372.2" x2="463.1" y2="360.9" stroke="#a81818" stroke-width="2.8"/>
<line x1="445.1" y1="383.6" x2="464.1" y2="372.2" stroke="#20b8b8" stroke-width="2.8"/><line x1="464.1" y1="372.2" x2="483.0" y2="360.9" stroke="#a81818" stroke-width="2.8"/>
<line x1="445.1" y1="383.6" x2="428.4" y2="399.1" stroke="#20b8b8" stroke-width="3.2"/><line x1="428.4" y1="399.1" x2="411.7" y2="414.6" stroke="#1818b8" stroke-width="3.2"/>
<line x1="445.1" y1="383.6" x2="432.5" y2="398.8" stroke="#20b8b8" stroke-width="3.2"/><line x1="432.5" y1="398.8" x2="419.9" y2="414.0" stroke="#1818b8" stroke-width="3.2"/>
<line x1="445.1" y1="383.6" x2="458.8" y2="399.4" stroke="#20b8b8" stroke-width="3.2"/><line x1="458.8" y1="399.4" x2="472.5" y2="415.1" stroke="#1818b8" stroke-width="3.2"/>
<line x1="445.1" y1="383.6" x2="462.9" y2="398.8" stroke="#20b8b8" stroke-width="3.2"/><line x1="462.9" y1="398.8" x2="480.6" y2="414.0" stroke="#1818b8" stroke-width="3.2"/>
<circle cx="379.0" cy="353.2" r="5.4" fill="#fcd6d6" stroke="#a87878" stroke-width="0.7"/>
<circle cx="388.4" cy="352.0" r="5.4" fill="#fcd6d6" stroke="#a87878" stroke-width="0.7"/>
<circle cx="504.0" cy="353.2" r="5.4" fill="#fcd6d6" stroke="#a87878" stroke-width="0.7"/>
<circle cx="500.5" cy="348.5" r="5.4" fill="#fcd6d6" stroke="#a87878" stroke-width="0.7"/>
<circle cx="407.0" cy="359.8" r="5.3" fill="#f21818" stroke="#6a0000" stroke-width="0.7"/>
<circle cx="426.2" cy="360.2" r="5.6" fill="#f21818" stroke="#6a0000" stroke-width="0.7"/>
<circle cx="463.1" cy="360.9" r="5.6" fill="#f21818" stroke="#6a0000" stroke-width="0.7"/>
<circle cx="483.0" cy="360.9" r="5.4" fill="#f21818" stroke="#6a0000" stroke-width="0.7"/>
<circle cx="395.4" cy="367.2" r="6.0" fill="#ececec" stroke="#6e6e6e" stroke-width="0.7"/>
<circle cx="402.4" cy="367.2" r="6.0" fill="#ececec" stroke="#6e6e6e" stroke-width="0.7"/>
<circle cx="488.8" cy="366.0" r="6.0" fill="#ececec" stroke="#6e6e6e" stroke-width="0.7"/>
<circle cx="389.5" cy="395.3" r="6.0" fill="#ececec" stroke="#6e6e6e" stroke-width="0.7"/>
<circle cx="407.0" cy="394.1" r="5.4" fill="#ececec" stroke="#6e6e6e" stroke-width="0.7"/>
<circle cx="481.8" cy="395.3" r="6.0" fill="#ececec" stroke="#6e6e6e" stroke-width="0.7"/>
<circle cx="500.0" cy="394.1" r="6.0" fill="#ececec" stroke="#6e6e6e" stroke-width="0.7"/>
<circle cx="419.9" cy="414.0" r="5.0" fill="#1e1ee8" stroke="#000050" stroke-width="0.7"/>
<circle cx="480.6" cy="414.0" r="5.0" fill="#1e1ee8" stroke="#000050" stroke-width="0.7"/>
<circle cx="411.7" cy="414.6" r="5.8" fill="#1e1ee8" stroke="#000050" stroke-width="0.7"/>
<circle cx="472.5" cy="415.1" r="5.8" fill="#1e1ee8" stroke="#000050" stroke-width="0.7"/>
<circle cx="392.6" cy="426.8" r="6.0" fill="#ececec" stroke="#6e6e6e" stroke-width="0.7"/>
<circle cx="398.9" cy="436.1" r="6.0" fill="#ececec" stroke="#6e6e6e" stroke-width="0.7"/>
<circle cx="425.7" cy="424.9" r="6.0" fill="#ececec" stroke="#6e6e6e" stroke-width="0.7"/>
<circle cx="435.0" cy="437.3" r="6.0" fill="#ececec" stroke="#6e6e6e" stroke-width="0.7"/>
<circle cx="455.0" cy="437.3" r="6.0" fill="#ececec" stroke="#6e6e6e" stroke-width="0.7"/>
<circle cx="463.1" cy="425.6" r="6.0" fill="#ececec" stroke="#6e6e6e" stroke-width="0.7"/>
<circle cx="492.3" cy="436.1" r="6.0" fill="#ececec" stroke="#6e6e6e" stroke-width="0.7"/>
<circle cx="497.0" cy="425.6" r="6.0" fill="#ececec" stroke="#6e6e6e" stroke-width="0.7"/>
<line x1="445.4" y1="324.59999999999997" x2="445.4" y2="446.7" stroke="#1c1c1c" stroke-width="3.1"/><path d="M442.2 325.1 L445.4 320.9 L448.6 325.1Z" fill="#1c1c1c"/>
<circle cx="445.1" cy="383.6" r="8.6" fill="#22eeee" stroke="#0a5a5a" stroke-width="0.7"/>
<line x1="541.8" y1="374.2" x2="550.9" y2="379.4" stroke="#d8b0b0" stroke-width="2.8"/><line x1="550.9" y1="379.4" x2="560.0" y2="384.7" stroke="#a8a8a8" stroke-width="2.8"/>
<line x1="564.7" y1="375.4" x2="562.4" y2="380.0" stroke="#d8b0b0" stroke-width="2.8"/><line x1="562.4" y1="380.0" x2="560.0" y2="384.7" stroke="#a8a8a8" stroke-width="2.8"/>
<line x1="560.0" y1="384.7" x2="564.7" y2="381.8" stroke="#a8a8a8" stroke-width="2.8"/><line x1="564.7" y1="381.8" x2="569.4" y2="378.9" stroke="#d01818" stroke-width="2.8"/>
<line x1="574.0" y1="387.1" x2="584.3" y2="383.0" stroke="#a8a8a8" stroke-width="2.8"/><line x1="584.3" y1="383.0" x2="594.6" y2="378.9" stroke="#d01818" stroke-width="2.8"/>
<line x1="560.0" y1="384.7" x2="560.0" y2="405.8" stroke="#a8a8a8" stroke-width="2.8"/>
<line x1="574.0" y1="387.1" x2="571.7" y2="405.3" stroke="#a8a8a8" stroke-width="2.8"/>
<line x1="560.0" y1="405.8" x2="567.6" y2="414.6" stroke="#a8a8a8" stroke-width="2.8"/><line x1="567.6" y1="414.6" x2="575.2" y2="423.3" stroke="#1a1ac8" stroke-width="2.8"/>
<line x1="571.7" y1="405.3" x2="579.7" y2="414.0" stroke="#a8a8a8" stroke-width="2.8"/><line x1="579.7" y1="414.0" x2="587.6" y2="422.6" stroke="#1a1ac8" stroke-width="2.8"/>
<line x1="654.6" y1="372.6" x2="648.8" y2="378.6" stroke="#d8b0b0" stroke-width="2.8"/><line x1="648.8" y1="378.6" x2="643.0" y2="384.7" stroke="#a8a8a8" stroke-width="2.8"/>
<line x1="676.8" y1="374.2" x2="667.2" y2="379.7" stroke="#d8b0b0" stroke-width="2.8"/><line x1="667.2" y1="379.7" x2="657.7" y2="385.2" stroke="#a8a8a8" stroke-width="2.8"/>
<line x1="643.0" y1="384.7" x2="632.8" y2="381.8" stroke="#a8a8a8" stroke-width="2.8"/><line x1="632.8" y1="381.8" x2="622.6" y2="378.9" stroke="#d01818" stroke-width="2.8"/>
<line x1="657.7" y1="385.2" x2="652.1" y2="381.7" stroke="#a8a8a8" stroke-width="2.8"/><line x1="652.1" y1="381.7" x2="646.5" y2="378.2" stroke="#d01818" stroke-width="2.8"/>
<line x1="643.0" y1="384.7" x2="645.3" y2="405.8" stroke="#a8a8a8" stroke-width="2.8"/>
<line x1="657.7" y1="385.2" x2="657.0" y2="407.6" stroke="#a8a8a8" stroke-width="2.8"/>
<line x1="645.3" y1="405.8" x2="637.1" y2="414.6" stroke="#a8a8a8" stroke-width="2.8"/><line x1="637.1" y1="414.6" x2="629.0" y2="423.3" stroke="#1a1ac8" stroke-width="2.8"/>
<line x1="657.0" y1="407.6" x2="649.1" y2="415.5" stroke="#a8a8a8" stroke-width="2.8"/><line x1="649.1" y1="415.5" x2="641.3" y2="423.3" stroke="#1a1ac8" stroke-width="2.8"/>
<line x1="575.2" y1="423.3" x2="566.5" y2="428.0" stroke="#1a1ac8" stroke-width="2.8"/><line x1="566.5" y1="428.0" x2="557.7" y2="432.6" stroke="#a8a8a8" stroke-width="2.8"/>
<line x1="575.2" y1="423.3" x2="574.0" y2="432.6" stroke="#1a1ac8" stroke-width="2.8"/><line x1="574.0" y1="432.6" x2="572.9" y2="442.0" stroke="#a8a8a8" stroke-width="2.8"/>
<line x1="587.6" y1="422.6" x2="587.2" y2="432.9" stroke="#1a1ac8" stroke-width="2.8"/><line x1="587.2" y1="432.9" x2="586.9" y2="443.1" stroke="#a8a8a8" stroke-width="2.8"/>
<line x1="586.9" y1="443.1" x2="607.2" y2="433.8" stroke="#a8a8a8" stroke-width="2.8"/>
<line x1="607.2" y1="433.8" x2="627.8" y2="442.7" stroke="#a8a8a8" stroke-width="2.8"/>
<line x1="629.0" y1="423.3" x2="628.4" y2="433.0" stroke="#1a1ac8" stroke-width="2.8"/><line x1="628.4" y1="433.0" x2="627.8" y2="442.7" stroke="#a8a8a8" stroke-width="2.8"/>
<line x1="641.3" y1="423.3" x2="641.5" y2="432.6" stroke="#1a1ac8" stroke-width="2.8"/><line x1="641.5" y1="432.6" x2="641.8" y2="442.0" stroke="#a8a8a8" stroke-width="2.8"/>
<line x1="641.3" y1="423.3" x2="649.7" y2="428.0" stroke="#1a1ac8" stroke-width="2.8"/><line x1="649.7" y1="428.0" x2="658.1" y2="432.6" stroke="#a8a8a8" stroke-width="2.8"/>
<line x1="557.7" y1="432.6" x2="572.9" y2="442.0" stroke="#a8a8a8" stroke-width="2.8"/>
<line x1="608.6" y1="347.4" x2="611.2" y2="343.9" stroke="#d01818" stroke-width="2.8"/><line x1="611.2" y1="343.9" x2="613.8" y2="340.4" stroke="#d8b8b8" stroke-width="2.8"/>
<line x1="608.6" y1="347.4" x2="614.1" y2="343.6" stroke="#d01818" stroke-width="2.8"/><line x1="614.1" y1="343.6" x2="619.6" y2="339.9" stroke="#d8b8b8" stroke-width="2.8"/>
<line x1="569.4" y1="378.9" x2="594.6" y2="378.9" stroke="#d01818" stroke-width="2.8"/>
<line x1="622.6" y1="378.9" x2="646.5" y2="378.2" stroke="#d01818" stroke-width="2.8"/>
<line x1="607.9" y1="392.9" x2="588.6" y2="385.9" stroke="#8020d8" stroke-width="3.0"/><line x1="588.6" y1="385.9" x2="569.4" y2="378.9" stroke="#b01818" stroke-width="3.0"/>
<line x1="607.9" y1="392.9" x2="601.2" y2="385.9" stroke="#8020d8" stroke-width="3.0"/><line x1="601.2" y1="385.9" x2="594.6" y2="378.9" stroke="#b01818" stroke-width="3.0"/>
<line x1="607.9" y1="392.9" x2="615.2" y2="385.9" stroke="#8020d8" stroke-width="3.0"/><line x1="615.2" y1="385.9" x2="622.6" y2="378.9" stroke="#b01818" stroke-width="3.0"/>
<line x1="607.9" y1="392.9" x2="627.2" y2="385.5" stroke="#8020d8" stroke-width="3.0"/><line x1="627.2" y1="385.5" x2="646.5" y2="378.2" stroke="#b01818" stroke-width="3.0"/>
<line x1="607.9" y1="392.9" x2="591.5" y2="408.1" stroke="#8020d8" stroke-width="3.6"/><line x1="591.5" y1="408.1" x2="575.2" y2="423.3" stroke="#1818c0" stroke-width="3.6"/>
<line x1="607.9" y1="392.9" x2="597.8" y2="407.8" stroke="#8020d8" stroke-width="3.6"/><line x1="597.8" y1="407.8" x2="587.6" y2="422.6" stroke="#1818c0" stroke-width="3.6"/>
<line x1="607.9" y1="392.9" x2="618.5" y2="408.1" stroke="#8020d8" stroke-width="3.6"/><line x1="618.5" y1="408.1" x2="629.0" y2="423.3" stroke="#1818c0" stroke-width="3.6"/>
<line x1="607.9" y1="392.9" x2="624.6" y2="408.1" stroke="#8020d8" stroke-width="3.6"/><line x1="624.6" y1="408.1" x2="641.3" y2="423.3" stroke="#1818c0" stroke-width="3.6"/>
<circle cx="541.8" cy="374.2" r="5.4" fill="#fcd6d6" stroke="#a87878" stroke-width="0.7"/>
<circle cx="564.7" cy="375.4" r="5.0" fill="#fcd6d6" stroke="#a87878" stroke-width="0.7"/>
<circle cx="654.6" cy="372.6" r="5.4" fill="#fcd6d6" stroke="#a87878" stroke-width="0.7"/>
<circle cx="676.8" cy="374.2" r="5.4" fill="#fcd6d6" stroke="#a87878" stroke-width="0.7"/>
<circle cx="569.4" cy="378.9" r="5.4" fill="#f21818" stroke="#6a0000" stroke-width="0.7"/>
<circle cx="594.6" cy="378.9" r="5.4" fill="#f21818" stroke="#6a0000" stroke-width="0.7"/>
<circle cx="622.6" cy="378.9" r="5.4" fill="#f21818" stroke="#6a0000" stroke-width="0.7"/>
<circle cx="646.5" cy="378.2" r="5.4" fill="#f21818" stroke="#6a0000" stroke-width="0.7"/>
<circle cx="560.0" cy="384.7" r="5.9" fill="#ececec" stroke="#6e6e6e" stroke-width="0.7"/>
<circle cx="574.0" cy="387.1" r="5.6" fill="#ececec" stroke="#6e6e6e" stroke-width="0.7"/>
<circle cx="643.0" cy="384.7" r="5.9" fill="#ececec" stroke="#6e6e6e" stroke-width="0.7"/>
<circle cx="657.7" cy="385.2" r="5.9" fill="#ececec" stroke="#6e6e6e" stroke-width="0.7"/>
<circle cx="560.0" cy="405.8" r="5.9" fill="#ececec" stroke="#6e6e6e" stroke-width="0.7"/>
<circle cx="571.7" cy="405.3" r="5.9" fill="#ececec" stroke="#6e6e6e" stroke-width="0.7"/>
<circle cx="645.3" cy="405.8" r="5.9" fill="#ececec" stroke="#6e6e6e" stroke-width="0.7"/>
<circle cx="657.0" cy="407.6" r="5.9" fill="#ececec" stroke="#6e6e6e" stroke-width="0.7"/>
<circle cx="575.2" cy="423.3" r="5.8" fill="#1e1ee8" stroke="#000050" stroke-width="0.7"/>
<circle cx="587.6" cy="422.6" r="5.8" fill="#1e1ee8" stroke="#000050" stroke-width="0.7"/>
<circle cx="629.0" cy="423.3" r="5.8" fill="#1e1ee8" stroke="#000050" stroke-width="0.7"/>
<circle cx="641.3" cy="423.3" r="5.8" fill="#1e1ee8" stroke="#000050" stroke-width="0.7"/>
<circle cx="557.7" cy="432.6" r="5.9" fill="#ececec" stroke="#6e6e6e" stroke-width="0.7"/>
<circle cx="572.9" cy="442.0" r="5.9" fill="#ececec" stroke="#6e6e6e" stroke-width="0.7"/>
<circle cx="586.9" cy="443.1" r="5.9" fill="#ececec" stroke="#6e6e6e" stroke-width="0.7"/>
<circle cx="627.8" cy="442.7" r="5.9" fill="#ececec" stroke="#6e6e6e" stroke-width="0.7"/>
<circle cx="641.8" cy="442.0" r="5.9" fill="#ececec" stroke="#6e6e6e" stroke-width="0.7"/>
<circle cx="658.1" cy="432.6" r="5.9" fill="#ececec" stroke="#6e6e6e" stroke-width="0.7"/>
<line x1="607.9" y1="323.2" x2="607.9" y2="452" stroke="#1c1c1c" stroke-width="3.1"/><path d="M604.7 323.7 L607.9 319.5 L611.1 323.7Z" fill="#1c1c1c"/>
<line x1="607.9" y1="392.9" x2="608.2" y2="370.1" stroke="#8020d8" stroke-width="1.6"/><line x1="608.2" y1="370.1" x2="608.6" y2="347.4" stroke="#e02020" stroke-width="1.6"/>
<circle cx="613.8" cy="340.4" r="3.4" fill="#fcdada" stroke="#a88080" stroke-width="0.7"/>
<circle cx="619.6" cy="339.9" r="3.4" fill="#fcdada" stroke="#a88080" stroke-width="0.7"/>
<circle cx="608.6" cy="347.4" r="5.4" fill="#f21818" stroke="#6a0000" stroke-width="0.7"/>
<circle cx="607.9" cy="392.9" r="12.8" fill="#9a30f0" stroke="#400a70" stroke-width="0.7"/>
<circle cx="607.2" cy="433.8" r="5.9" fill="#ececec" stroke="#6e6e6e" stroke-width="0.7"/>
<line x1="394.6" y1="566.4" x2="394.8" y2="543.0" stroke="#7a22c8" stroke-width="2.8"/>
<line x1="394.8" y1="543.0" x2="394.9" y2="526" stroke="#b41818" stroke-width="2.8"/>
<line x1="394.6" y1="566.4" x2="370.5" y2="566.4" stroke="#7a22c8" stroke-width="2.8"/>
<line x1="370.5" y1="566.4" x2="353.1" y2="566.4" stroke="#b41818" stroke-width="2.8"/>
<line x1="394.6" y1="566.4" x2="418.6" y2="566.4" stroke="#7a22c8" stroke-width="2.8"/>
<line x1="418.6" y1="566.4" x2="436" y2="566.4" stroke="#b41818" stroke-width="2.8"/>
<line x1="394.6" y1="566.4" x2="394.6" y2="590.1" stroke="#7a22c8" stroke-width="2.8"/>
<line x1="394.6" y1="590.1" x2="394.6" y2="607.2" stroke="#b41818" stroke-width="2.8"/>
<line x1="394.6" y1="566.4" x2="382.2" y2="550.4" stroke="#6a22c0" stroke-width="2.8"/>
<line x1="382.2" y1="550.4" x2="370.7" y2="535.6" stroke="#2a2aa8" stroke-width="2.8"/>
<line x1="394.6" y1="566.4" x2="410.0" y2="553.8" stroke="#6a22c0" stroke-width="2.8"/>
<line x1="410.0" y1="553.8" x2="424.3" y2="542.2" stroke="#2a2aa8" stroke-width="2.8"/>
<line x1="394.6" y1="566.4" x2="378.6" y2="578.6" stroke="#a040f8" stroke-width="2.8"/>
<line x1="378.6" y1="578.6" x2="363.8" y2="589.9" stroke="#2a2aa8" stroke-width="2.8"/>
<line x1="394.6" y1="566.4" x2="406.8" y2="582.1" stroke="#6a22c0" stroke-width="2.8"/>
<line x1="406.8" y1="582.1" x2="418" y2="596.5" stroke="#2a2aa8" stroke-width="2.8"/>
<circle cx="394.9" cy="526" r="5.6" fill="#f41c1c"/>
<circle cx="353.1" cy="566.4" r="5.6" fill="#f41c1c"/>
<circle cx="436" cy="566.4" r="5.6" fill="#f41c1c"/>
<circle cx="394.6" cy="607.2" r="5.6" fill="#f41c1c"/>
<circle cx="370.7" cy="535.6" r="5.6" fill="#2a30f0"/>
<circle cx="424.3" cy="542.2" r="5.6" fill="#2a30f0"/>
<circle cx="363.8" cy="589.9" r="5.6" fill="#2a30f0"/>
<circle cx="418" cy="596.5" r="5.6" fill="#2a30f0"/>
<circle cx="394.6" cy="566.4" r="12.9" fill="#9a30f0"/>
<line x1="394.6" y1="566.4" x2="387.3" y2="551" stroke="#c8a0a0" stroke-width="2"/>
<line x1="394.6" y1="566.4" x2="410.8" y2="567.1" stroke="#c8a0a0" stroke-width="2"/>
<circle cx="394.6" cy="566.4" r="5.4" fill="#f01010" stroke="#900" stroke-width="0.5"/>
<circle cx="394.6" cy="566.4" r="3.1" fill="#000"/>
<circle cx="387.3" cy="551" r="3.3" fill="#f8d0d0" stroke="#a08080" stroke-width="0.5"/>
<circle cx="410.8" cy="567.1" r="3.3" fill="#f8d0d0" stroke="#a08080" stroke-width="0.5"/>
<path d="M387.0 550.1 A18 18 0 0 0 377.7 572.6" fill="none" stroke="#333" stroke-width="1.5"/>
<path d="M374.7 571.1 L378.2 577.1 L380.9 570.8Z" fill="#333"/>
<path d="M411.5 567.9 A17 17 0 0 0 397.6 549.7" fill="none" stroke="#333" stroke-width="1.5"/>
<path d="M398.6 546.4 L393.1 549.9 L399.1 552.9Z" fill="#333"/>
<text x="369.6" y="559.5" font-size="12" fill="#222">α</text>
</svg></body></html>
